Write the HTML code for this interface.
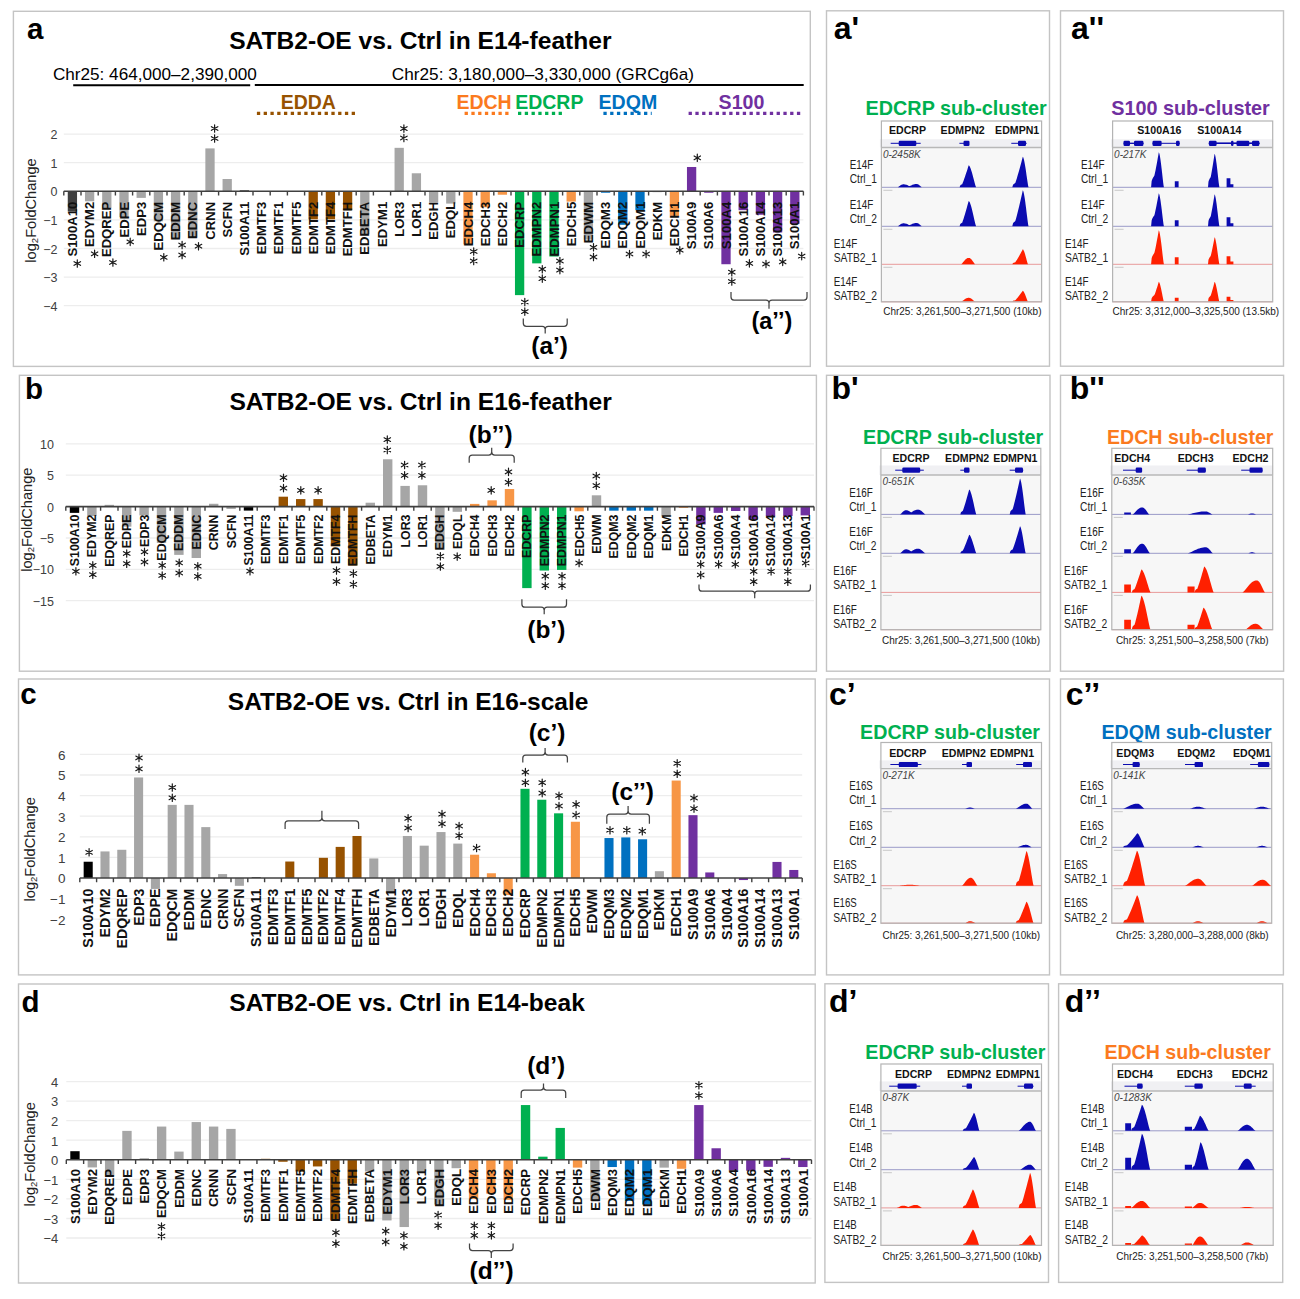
<!DOCTYPE html>
<html><head><meta charset="utf-8"><title>SATB2-OE figure</title>
<style>html,body{margin:0;padding:0;background:#fff;} svg{display:block;} text{font-family:"Liberation Sans",sans-serif;}</style>
</head><body>
<svg width="1300" height="1299" viewBox="0 0 1300 1299" font-family="Liberation Sans, sans-serif">
<rect width="1300" height="1299" fill="#fff"/>
<rect x="13.4" y="11.3" width="796.9" height="355.1" fill="none" stroke="#c4c4c4" stroke-width="1.4"/>
<rect x="19.4" y="375.3" width="797.0" height="295.9" fill="none" stroke="#c4c4c4" stroke-width="1.4"/>
<rect x="18.5" y="679.0" width="796.7" height="295.9" fill="none" stroke="#c4c4c4" stroke-width="1.4"/>
<rect x="18.5" y="984.0" width="796.7" height="299.0" fill="none" stroke="#c4c4c4" stroke-width="1.4"/>
<text x="27.0" y="39.2" font-size="29.5" font-weight="bold" fill="#000" text-anchor="start" >a</text>
<text x="25.0" y="398.9" font-size="29.5" font-weight="bold" fill="#000" text-anchor="start" >b</text>
<text x="20.2" y="704.2" font-size="29.5" font-weight="bold" fill="#000" text-anchor="start" >c</text>
<text x="21.6" y="1011.8" font-size="29.5" font-weight="bold" fill="#000" text-anchor="start" >d</text>
<text x="229.2" y="49.2" font-size="24.5" font-weight="bold" fill="#000" text-anchor="start" textLength="382.4" lengthAdjust="spacingAndGlyphs" >SATB2-OE vs. Ctrl in E14-feather</text>
<text x="229.4" y="409.8" font-size="24.5" font-weight="bold" fill="#000" text-anchor="start" textLength="382.4" lengthAdjust="spacingAndGlyphs" >SATB2-OE vs. Ctrl in E16-feather</text>
<text x="227.8" y="709.6" font-size="24.5" font-weight="bold" fill="#000" text-anchor="start" textLength="360.6" lengthAdjust="spacingAndGlyphs" >SATB2-OE vs. Ctrl in E16-scale</text>
<text x="229.3" y="1010.5" font-size="24.5" font-weight="bold" fill="#000" text-anchor="start" textLength="355.5" lengthAdjust="spacingAndGlyphs" >SATB2-OE vs. Ctrl in E14-beak</text>
<text x="52.9" y="80.0" font-size="17.2" font-weight="normal" fill="#000" text-anchor="start" textLength="204" lengthAdjust="spacingAndGlyphs" >Chr25: 464,000–2,390,000</text>
<text x="391.8" y="80.0" font-size="17.2" font-weight="normal" fill="#000" text-anchor="start" textLength="302.2" lengthAdjust="spacingAndGlyphs" >Chr25: 3,180,000–3,330,000 (GRCg6a)</text>
<line x1="73.2" y1="85.2" x2="250.2" y2="85.2" stroke="#000" stroke-width="2.1"/>
<line x1="254.8" y1="85.0" x2="803.7" y2="85.0" stroke="#000" stroke-width="2.1"/>
<text x="280.7" y="108.6" font-size="20.5" font-weight="bold" fill="#975200" text-anchor="start" textLength="55.1" lengthAdjust="spacingAndGlyphs" >EDDA</text>
<line x1="256.9" y1="113.3" x2="356.0" y2="113.3" stroke="#975200" stroke-width="3.2" stroke-dasharray="3.3 3.47"/>
<text x="456.4" y="108.6" font-size="20.5" font-weight="bold" fill="#fb7a1e" text-anchor="start" textLength="55.300000000000004" lengthAdjust="spacingAndGlyphs" >EDCH</text>
<line x1="464.6" y1="113.3" x2="512.0" y2="113.3" stroke="#fb7a1e" stroke-width="3.2" stroke-dasharray="3.3 3.47"/>
<text x="515.2" y="108.6" font-size="20.5" font-weight="bold" fill="#00b050" text-anchor="start" textLength="68.2" lengthAdjust="spacingAndGlyphs" >EDCRP</text>
<line x1="518.0" y1="113.3" x2="565.4" y2="113.3" stroke="#00b050" stroke-width="3.2" stroke-dasharray="3.3 3.47"/>
<text x="598.5" y="108.6" font-size="20.5" font-weight="bold" fill="#0070c0" text-anchor="start" textLength="58.7" lengthAdjust="spacingAndGlyphs" >EDQM</text>
<line x1="603.4" y1="113.3" x2="651.7" y2="113.3" stroke="#0070c0" stroke-width="3.2" stroke-dasharray="3.3 3.47"/>
<text x="718.6" y="108.6" font-size="20.5" font-weight="bold" fill="#7030a0" text-anchor="start" textLength="45.800000000000004" lengthAdjust="spacingAndGlyphs" >S100</text>
<line x1="688.6" y1="113.3" x2="803.0" y2="113.3" stroke="#7030a0" stroke-width="3.2" stroke-dasharray="3.3 3.47"/>
<line x1="63.8" y1="134.1" x2="803.4" y2="134.1" stroke="#ededed" stroke-width="1.3"/>
<text x="57.5" y="139.1" font-size="12.5" fill="#404040" text-anchor="end">2</text>
<line x1="63.8" y1="162.7" x2="803.4" y2="162.7" stroke="#ededed" stroke-width="1.3"/>
<text x="57.5" y="167.7" font-size="12.5" fill="#404040" text-anchor="end">1</text>
<text x="57.5" y="196.3" font-size="12.5" fill="#404040" text-anchor="end">0</text>
<line x1="63.8" y1="219.9" x2="803.4" y2="219.9" stroke="#ededed" stroke-width="1.3"/>
<text x="57.5" y="224.9" font-size="12.5" fill="#404040" text-anchor="end">−1</text>
<line x1="63.8" y1="248.5" x2="803.4" y2="248.5" stroke="#ededed" stroke-width="1.3"/>
<text x="57.5" y="253.5" font-size="12.5" fill="#404040" text-anchor="end">−2</text>
<line x1="63.8" y1="277.1" x2="803.4" y2="277.1" stroke="#ededed" stroke-width="1.3"/>
<text x="57.5" y="282.1" font-size="12.5" fill="#404040" text-anchor="end">−3</text>
<line x1="63.8" y1="305.7" x2="803.4" y2="305.7" stroke="#ededed" stroke-width="1.3"/>
<text x="57.5" y="310.7" font-size="12.5" fill="#404040" text-anchor="end">−4</text>
<rect x="67.76" y="191.30" width="9.29" height="20.02" fill="#404040"/>
<rect x="84.96" y="191.30" width="9.29" height="10.01" fill="#a6a6a6"/>
<rect x="102.16" y="191.30" width="9.29" height="16.59" fill="#a6a6a6"/>
<rect x="119.36" y="191.30" width="9.29" height="25.74" fill="#a6a6a6"/>
<rect x="136.56" y="191.30" width="9.29" height="6.58" fill="#a6a6a6"/>
<rect x="153.76" y="191.30" width="9.29" height="30.03" fill="#a6a6a6"/>
<rect x="170.96" y="191.30" width="9.29" height="46.33" fill="#a6a6a6"/>
<rect x="188.16" y="191.30" width="9.29" height="46.33" fill="#a6a6a6"/>
<rect x="205.36" y="148.40" width="9.29" height="42.90" fill="#a6a6a6"/>
<rect x="222.56" y="179.00" width="9.29" height="12.30" fill="#a6a6a6"/>
<rect x="239.76" y="190.44" width="9.29" height="0.86" fill="#000000"/>
<rect x="308.56" y="191.30" width="9.29" height="28.03" fill="#975200"/>
<rect x="325.76" y="191.30" width="9.29" height="28.03" fill="#975200"/>
<rect x="342.96" y="191.30" width="9.29" height="18.88" fill="#975200"/>
<rect x="360.16" y="191.30" width="9.29" height="42.90" fill="#a6a6a6"/>
<rect x="394.56" y="147.83" width="9.29" height="43.47" fill="#a6a6a6"/>
<rect x="411.76" y="173.28" width="9.29" height="18.02" fill="#a6a6a6"/>
<rect x="428.96" y="191.30" width="9.29" height="11.15" fill="#a6a6a6"/>
<rect x="446.16" y="191.30" width="9.29" height="12.30" fill="#a6a6a6"/>
<rect x="463.36" y="191.30" width="9.29" height="52.91" fill="#f79646"/>
<rect x="480.56" y="191.30" width="9.29" height="16.02" fill="#f79646"/>
<rect x="497.76" y="191.30" width="9.29" height="3.43" fill="#f79646"/>
<rect x="514.96" y="191.30" width="9.29" height="103.82" fill="#00b050"/>
<rect x="532.16" y="191.30" width="9.29" height="72.07" fill="#00b050"/>
<rect x="549.36" y="191.30" width="9.29" height="65.21" fill="#00b050"/>
<rect x="566.56" y="191.30" width="9.29" height="10.30" fill="#f79646"/>
<rect x="583.76" y="191.30" width="9.29" height="48.33" fill="#a6a6a6"/>
<rect x="600.96" y="191.30" width="9.29" height="1.43" fill="#0070c0"/>
<rect x="618.16" y="191.30" width="9.29" height="33.46" fill="#0070c0"/>
<rect x="635.36" y="191.30" width="9.29" height="18.88" fill="#0070c0"/>
<rect x="652.56" y="191.30" width="9.29" height="0.86" fill="#a6a6a6"/>
<rect x="669.76" y="191.30" width="9.29" height="24.60" fill="#f79646"/>
<rect x="686.96" y="166.99" width="9.29" height="24.31" fill="#7030a0"/>
<rect x="704.16" y="191.30" width="9.29" height="1.43" fill="#7030a0"/>
<rect x="721.36" y="191.30" width="9.29" height="72.93" fill="#7030a0"/>
<rect x="738.56" y="191.30" width="9.29" height="18.88" fill="#7030a0"/>
<rect x="755.76" y="191.30" width="9.29" height="23.45" fill="#7030a0"/>
<rect x="772.96" y="191.30" width="9.29" height="41.18" fill="#7030a0"/>
<rect x="790.16" y="191.30" width="9.29" height="32.60" fill="#7030a0"/>
<line x1="63.8" y1="191.3" x2="803.4" y2="191.3" stroke="#404040" stroke-width="1.6"/>
<path d="M63.80 191.3v4.2M81.00 191.3v4.2M98.20 191.3v4.2M115.40 191.3v4.2M132.60 191.3v4.2M149.80 191.3v4.2M167.00 191.3v4.2M184.20 191.3v4.2M201.40 191.3v4.2M218.60 191.3v4.2M235.80 191.3v4.2M253.00 191.3v4.2M270.20 191.3v4.2M287.40 191.3v4.2M304.60 191.3v4.2M321.80 191.3v4.2M339.00 191.3v4.2M356.20 191.3v4.2M373.40 191.3v4.2M390.60 191.3v4.2M407.80 191.3v4.2M425.00 191.3v4.2M442.20 191.3v4.2M459.40 191.3v4.2M476.60 191.3v4.2M493.80 191.3v4.2M511.00 191.3v4.2M528.20 191.3v4.2M545.40 191.3v4.2M562.60 191.3v4.2M579.80 191.3v4.2M597.00 191.3v4.2M614.20 191.3v4.2M631.40 191.3v4.2M648.60 191.3v4.2M665.80 191.3v4.2M683.00 191.3v4.2M700.20 191.3v4.2M717.40 191.3v4.2M734.60 191.3v4.2M751.80 191.3v4.2M769.00 191.3v4.2M786.20 191.3v4.2M803.40 191.3v4.2" stroke="#404040" stroke-width="1.4"/>
<text transform="translate(77.09 201.8) rotate(-90)" text-anchor="end" font-size="13.1" font-weight="bold" fill="#111">S100A10</text>
<text transform="translate(94.29 201.8) rotate(-90)" text-anchor="end" font-size="13.1" font-weight="bold" fill="#111">EDYM2</text>
<text transform="translate(111.49 201.8) rotate(-90)" text-anchor="end" font-size="13.1" font-weight="bold" fill="#111">EDQREP</text>
<text transform="translate(128.69 201.8) rotate(-90)" text-anchor="end" font-size="13.1" font-weight="bold" fill="#111">EDPE</text>
<text transform="translate(145.89 201.8) rotate(-90)" text-anchor="end" font-size="13.1" font-weight="bold" fill="#111">EDP3</text>
<text transform="translate(163.09 201.8) rotate(-90)" text-anchor="end" font-size="13.1" font-weight="bold" fill="#111">EDQCM</text>
<text transform="translate(180.29 201.8) rotate(-90)" text-anchor="end" font-size="13.1" font-weight="bold" fill="#111">EDDM</text>
<text transform="translate(197.49 201.8) rotate(-90)" text-anchor="end" font-size="13.1" font-weight="bold" fill="#111">EDNC</text>
<text transform="translate(214.69 201.8) rotate(-90)" text-anchor="end" font-size="13.1" font-weight="bold" fill="#111">CRNN</text>
<text transform="translate(231.89 201.8) rotate(-90)" text-anchor="end" font-size="13.1" font-weight="bold" fill="#111">SCFN</text>
<text transform="translate(249.09 201.8) rotate(-90)" text-anchor="end" font-size="13.1" font-weight="bold" fill="#111">S100A11</text>
<text transform="translate(266.29 201.8) rotate(-90)" text-anchor="end" font-size="13.1" font-weight="bold" fill="#111">EDMTF3</text>
<text transform="translate(283.49 201.8) rotate(-90)" text-anchor="end" font-size="13.1" font-weight="bold" fill="#111">EDMTF1</text>
<text transform="translate(300.69 201.8) rotate(-90)" text-anchor="end" font-size="13.1" font-weight="bold" fill="#111">EDMTF5</text>
<text transform="translate(317.89 201.8) rotate(-90)" text-anchor="end" font-size="13.1" font-weight="bold" fill="#111">EDMTF2</text>
<text transform="translate(335.09 201.8) rotate(-90)" text-anchor="end" font-size="13.1" font-weight="bold" fill="#111">EDMTF4</text>
<text transform="translate(352.29 201.8) rotate(-90)" text-anchor="end" font-size="13.1" font-weight="bold" fill="#111">EDMTFH</text>
<text transform="translate(369.49 201.8) rotate(-90)" text-anchor="end" font-size="13.1" font-weight="bold" fill="#111">EDBETA</text>
<text transform="translate(386.69 201.8) rotate(-90)" text-anchor="end" font-size="13.1" font-weight="bold" fill="#111">EDYM1</text>
<text transform="translate(403.89 201.8) rotate(-90)" text-anchor="end" font-size="13.1" font-weight="bold" fill="#111">LOR3</text>
<text transform="translate(421.09 201.8) rotate(-90)" text-anchor="end" font-size="13.1" font-weight="bold" fill="#111">LOR1</text>
<text transform="translate(438.29 201.8) rotate(-90)" text-anchor="end" font-size="13.1" font-weight="bold" fill="#111">EDGH</text>
<text transform="translate(455.49 201.8) rotate(-90)" text-anchor="end" font-size="13.1" font-weight="bold" fill="#111">EDQL</text>
<text transform="translate(472.69 201.8) rotate(-90)" text-anchor="end" font-size="13.1" font-weight="bold" fill="#111">EDCH4</text>
<text transform="translate(489.89 201.8) rotate(-90)" text-anchor="end" font-size="13.1" font-weight="bold" fill="#111">EDCH3</text>
<text transform="translate(507.09 201.8) rotate(-90)" text-anchor="end" font-size="13.1" font-weight="bold" fill="#111">EDCH2</text>
<text transform="translate(524.29 201.8) rotate(-90)" text-anchor="end" font-size="13.1" font-weight="bold" fill="#111">EDCRP</text>
<text transform="translate(541.49 201.8) rotate(-90)" text-anchor="end" font-size="13.1" font-weight="bold" fill="#111">EDMPN2</text>
<text transform="translate(558.69 201.8) rotate(-90)" text-anchor="end" font-size="13.1" font-weight="bold" fill="#111">EDMPN1</text>
<text transform="translate(575.89 201.8) rotate(-90)" text-anchor="end" font-size="13.1" font-weight="bold" fill="#111">EDCH5</text>
<text transform="translate(593.09 201.8) rotate(-90)" text-anchor="end" font-size="13.1" font-weight="bold" fill="#111">EDWM</text>
<text transform="translate(610.29 201.8) rotate(-90)" text-anchor="end" font-size="13.1" font-weight="bold" fill="#111">EDQM3</text>
<text transform="translate(627.49 201.8) rotate(-90)" text-anchor="end" font-size="13.1" font-weight="bold" fill="#111">EDQM2</text>
<text transform="translate(644.69 201.8) rotate(-90)" text-anchor="end" font-size="13.1" font-weight="bold" fill="#111">EDQM1</text>
<text transform="translate(661.89 201.8) rotate(-90)" text-anchor="end" font-size="13.1" font-weight="bold" fill="#111">EDKM</text>
<text transform="translate(679.09 201.8) rotate(-90)" text-anchor="end" font-size="13.1" font-weight="bold" fill="#111">EDCH1</text>
<text transform="translate(696.29 201.8) rotate(-90)" text-anchor="end" font-size="13.1" font-weight="bold" fill="#111">S100A9</text>
<text transform="translate(713.49 201.8) rotate(-90)" text-anchor="end" font-size="13.1" font-weight="bold" fill="#111">S100A6</text>
<text transform="translate(730.69 201.8) rotate(-90)" text-anchor="end" font-size="13.1" font-weight="bold" fill="#111">S100A4</text>
<text transform="translate(747.89 201.8) rotate(-90)" text-anchor="end" font-size="13.1" font-weight="bold" fill="#111">S100A16</text>
<text transform="translate(765.09 201.8) rotate(-90)" text-anchor="end" font-size="13.1" font-weight="bold" fill="#111">S100A14</text>
<text transform="translate(782.29 201.8) rotate(-90)" text-anchor="end" font-size="13.1" font-weight="bold" fill="#111">S100A13</text>
<text transform="translate(799.49 201.8) rotate(-90)" text-anchor="end" font-size="13.1" font-weight="bold" fill="#111">S100A1</text>
<path d="M77.30 259.80L77.30 267.20M74.10 261.65L80.50 265.35M80.50 261.65L74.10 265.35M94.60 250.10L94.60 257.50M91.40 251.95L97.80 255.65M97.80 251.95L91.40 255.65M112.90 258.80L112.90 266.20M109.70 260.65L116.10 264.35M116.10 260.65L109.70 264.35M130.20 238.20L130.20 245.60M127.00 240.05L133.40 243.75M133.40 240.05L127.00 243.75M163.80 253.60L163.80 261.00M160.60 255.45L167.00 259.15M167.00 255.45L160.60 259.15M182.10 241.30L182.10 248.70M178.90 243.15L185.30 246.85M185.30 243.15L178.90 246.85M182.10 251.30L182.10 258.70M178.90 253.15L185.30 256.85M185.30 253.15L178.90 256.85M198.50 242.50L198.50 249.90M195.30 244.35L201.70 248.05M201.70 244.35L195.30 248.05M214.60 124.80L214.60 132.20M211.40 126.65L217.80 130.35M217.80 126.65L211.40 130.35M214.60 134.80L214.60 142.20M211.40 136.65L217.80 140.35M217.80 136.65L211.40 140.35M403.90 124.90L403.90 132.30M400.70 126.75L407.10 130.45M407.10 126.75L400.70 130.45M403.90 134.30L403.90 141.70M400.70 136.15L407.10 139.85M407.10 136.15L400.70 139.85M473.70 247.80L473.70 255.20M470.50 249.65L476.90 253.35M476.90 249.65L470.50 253.35M473.70 257.30L473.70 264.70M470.50 259.15L476.90 262.85M476.90 259.15L470.50 262.85M524.80 298.30L524.80 305.70M521.60 300.15L528.00 303.85M528.00 300.15L521.60 303.85M524.80 307.90L524.80 315.30M521.60 309.75L528.00 313.45M528.00 309.75L521.60 313.45M542.30 265.50L542.30 272.90M539.10 267.35L545.50 271.05M545.50 267.35L539.10 271.05M542.30 274.90L542.30 282.30M539.10 276.75L545.50 280.45M545.50 276.75L539.10 280.45M559.90 257.30L559.90 264.70M556.70 259.15L563.10 262.85M563.10 259.15L556.70 262.85M559.90 266.40L559.90 273.80M556.70 268.25L563.10 271.95M563.10 268.25L556.70 271.95M593.50 243.60L593.50 251.00M590.30 245.45L596.70 249.15M596.70 245.45L590.30 249.15M593.50 253.30L593.50 260.70M590.30 255.15L596.70 258.85M596.70 255.15L590.30 258.85M629.50 250.30L629.50 257.70M626.30 252.15L632.70 255.85M632.70 252.15L626.30 255.85M646.10 250.30L646.10 257.70M642.90 252.15L649.30 255.85M649.30 252.15L642.90 255.85M679.80 246.50L679.80 253.90M676.60 248.35L683.00 252.05M683.00 248.35L676.60 252.05M731.80 268.50L731.80 275.90M728.60 270.35L735.00 274.05M735.00 270.35L728.60 274.05M731.80 277.80L731.80 285.20M728.60 279.65L735.00 283.35M735.00 279.65L728.60 283.35M749.40 259.70L749.40 267.10M746.20 261.55L752.60 265.25M752.60 261.55L746.20 265.25M766.00 260.30L766.00 267.70M762.80 262.15L769.20 265.85M769.20 262.15L762.80 265.85M782.70 258.20L782.70 265.60M779.50 260.05L785.90 263.75M785.90 260.05L779.50 263.75M801.70 252.40L801.70 259.80M798.50 254.25L804.90 257.95M804.90 254.25L798.50 257.95M697.30 154.10L697.30 161.50M694.10 155.95L700.50 159.65M700.50 155.95L694.10 159.65" stroke="#1a1a1a" stroke-width="1.2" stroke-linecap="round" fill="none"/>
<text transform="translate(35.6 210.5) rotate(-90)" text-anchor="middle" font-size="14.6" fill="#222">log<tspan font-size="9.5" dy="2.2">2</tspan><tspan dy="-2.2">FoldChange</tspan></text>
<line x1="65.8" y1="443.9" x2="814.0" y2="443.9" stroke="#ededed" stroke-width="1.3"/>
<text x="54.0" y="448.9" font-size="12.5" fill="#404040" text-anchor="end">10</text>
<line x1="65.8" y1="475.2" x2="814.0" y2="475.2" stroke="#ededed" stroke-width="1.3"/>
<text x="54.0" y="480.2" font-size="12.5" fill="#404040" text-anchor="end">5</text>
<text x="54.0" y="511.6" font-size="12.5" fill="#404040" text-anchor="end">0</text>
<line x1="65.8" y1="538.0" x2="814.0" y2="538.0" stroke="#ededed" stroke-width="1.3"/>
<text x="54.0" y="543.0" font-size="12.5" fill="#404040" text-anchor="end">−5</text>
<line x1="65.8" y1="569.3" x2="814.0" y2="569.3" stroke="#ededed" stroke-width="1.3"/>
<text x="54.0" y="574.3" font-size="12.5" fill="#404040" text-anchor="end">−10</text>
<line x1="65.8" y1="600.6" x2="814.0" y2="600.6" stroke="#ededed" stroke-width="1.3"/>
<text x="54.0" y="605.6" font-size="12.5" fill="#404040" text-anchor="end">−15</text>
<rect x="69.80" y="506.60" width="9.40" height="6.27" fill="#000000"/>
<rect x="87.20" y="506.60" width="9.40" height="9.40" fill="#a6a6a6"/>
<rect x="104.60" y="504.84" width="9.40" height="1.76" fill="#a6a6a6"/>
<rect x="122.00" y="506.60" width="9.40" height="20.06" fill="#a6a6a6"/>
<rect x="139.40" y="506.60" width="9.40" height="8.78" fill="#a6a6a6"/>
<rect x="156.80" y="506.60" width="9.40" height="36.37" fill="#a6a6a6"/>
<rect x="174.20" y="506.60" width="9.40" height="48.28" fill="#a6a6a6"/>
<rect x="191.60" y="506.60" width="9.40" height="51.41" fill="#a6a6a6"/>
<rect x="209.00" y="503.78" width="9.40" height="2.82" fill="#a6a6a6"/>
<rect x="226.40" y="506.60" width="9.40" height="2.32" fill="#a6a6a6"/>
<rect x="243.80" y="506.60" width="9.40" height="4.01" fill="#000000"/>
<rect x="278.60" y="496.69" width="9.40" height="9.91" fill="#975200"/>
<rect x="296.00" y="499.08" width="9.40" height="7.52" fill="#975200"/>
<rect x="313.40" y="499.08" width="9.40" height="7.52" fill="#975200"/>
<rect x="330.80" y="506.60" width="9.40" height="39.81" fill="#975200"/>
<rect x="348.20" y="506.60" width="9.40" height="58.94" fill="#975200"/>
<rect x="365.60" y="502.71" width="9.40" height="3.89" fill="#a6a6a6"/>
<rect x="383.00" y="459.26" width="9.40" height="47.34" fill="#a6a6a6"/>
<rect x="400.40" y="485.91" width="9.40" height="20.69" fill="#a6a6a6"/>
<rect x="417.80" y="485.28" width="9.40" height="21.32" fill="#a6a6a6"/>
<rect x="435.20" y="506.60" width="9.40" height="43.26" fill="#a6a6a6"/>
<rect x="452.60" y="506.60" width="9.40" height="5.20" fill="#a6a6a6"/>
<rect x="470.00" y="503.90" width="9.40" height="2.70" fill="#f79646"/>
<rect x="487.40" y="500.33" width="9.40" height="6.27" fill="#f79646"/>
<rect x="504.80" y="489.04" width="9.40" height="17.56" fill="#f79646"/>
<rect x="522.20" y="506.60" width="9.40" height="81.51" fill="#00b050"/>
<rect x="539.60" y="506.60" width="9.40" height="63.95" fill="#00b050"/>
<rect x="557.00" y="506.60" width="9.40" height="63.33" fill="#00b050"/>
<rect x="574.40" y="506.60" width="9.40" height="4.70" fill="#f79646"/>
<rect x="591.80" y="495.31" width="9.40" height="11.29" fill="#a6a6a6"/>
<rect x="609.20" y="506.60" width="9.40" height="4.08" fill="#0070c0"/>
<rect x="626.60" y="506.60" width="9.40" height="4.08" fill="#0070c0"/>
<rect x="644.00" y="506.60" width="9.40" height="4.08" fill="#0070c0"/>
<rect x="661.40" y="506.60" width="9.40" height="9.78" fill="#a6a6a6"/>
<rect x="678.80" y="506.60" width="9.40" height="1.25" fill="#f79646"/>
<rect x="696.20" y="506.60" width="9.40" height="17.87" fill="#7030a0"/>
<rect x="713.60" y="506.60" width="9.40" height="6.27" fill="#7030a0"/>
<rect x="731.00" y="506.60" width="9.40" height="4.39" fill="#7030a0"/>
<rect x="748.40" y="506.60" width="9.40" height="13.17" fill="#7030a0"/>
<rect x="765.80" y="506.60" width="9.40" height="9.40" fill="#7030a0"/>
<rect x="783.20" y="506.60" width="9.40" height="9.40" fill="#7030a0"/>
<rect x="800.60" y="506.60" width="9.40" height="8.78" fill="#7030a0"/>
<line x1="65.8" y1="506.6" x2="814.0" y2="506.6" stroke="#404040" stroke-width="1.6"/>
<path d="M65.80 506.6v4.2M83.20 506.6v4.2M100.60 506.6v4.2M118.00 506.6v4.2M135.40 506.6v4.2M152.80 506.6v4.2M170.20 506.6v4.2M187.60 506.6v4.2M205.00 506.6v4.2M222.40 506.6v4.2M239.80 506.6v4.2M257.20 506.6v4.2M274.60 506.6v4.2M292.00 506.6v4.2M309.40 506.6v4.2M326.80 506.6v4.2M344.20 506.6v4.2M361.60 506.6v4.2M379.00 506.6v4.2M396.40 506.6v4.2M413.80 506.6v4.2M431.20 506.6v4.2M448.60 506.6v4.2M466.00 506.6v4.2M483.40 506.6v4.2M500.80 506.6v4.2M518.20 506.6v4.2M535.60 506.6v4.2M553.00 506.6v4.2M570.40 506.6v4.2M587.80 506.6v4.2M605.20 506.6v4.2M622.60 506.6v4.2M640.00 506.6v4.2M657.40 506.6v4.2M674.80 506.6v4.2M692.20 506.6v4.2M709.60 506.6v4.2M727.00 506.6v4.2M744.40 506.6v4.2M761.80 506.6v4.2M779.20 506.6v4.2M796.60 506.6v4.2M814.00 506.6v4.2" stroke="#404040" stroke-width="1.4"/>
<text transform="translate(78.94 514.5) rotate(-90)" text-anchor="end" font-size="12.4" font-weight="bold" fill="#111">S100A10</text>
<text transform="translate(96.34 514.5) rotate(-90)" text-anchor="end" font-size="12.4" font-weight="bold" fill="#111">EDYM2</text>
<text transform="translate(113.74 514.5) rotate(-90)" text-anchor="end" font-size="12.4" font-weight="bold" fill="#111">EDQREP</text>
<text transform="translate(131.14 514.5) rotate(-90)" text-anchor="end" font-size="12.4" font-weight="bold" fill="#111">EDPE</text>
<text transform="translate(148.54 514.5) rotate(-90)" text-anchor="end" font-size="12.4" font-weight="bold" fill="#111">EDP3</text>
<text transform="translate(165.94 514.5) rotate(-90)" text-anchor="end" font-size="12.4" font-weight="bold" fill="#111">EDQCM</text>
<text transform="translate(183.34 514.5) rotate(-90)" text-anchor="end" font-size="12.4" font-weight="bold" fill="#111">EDDM</text>
<text transform="translate(200.74 514.5) rotate(-90)" text-anchor="end" font-size="12.4" font-weight="bold" fill="#111">EDNC</text>
<text transform="translate(218.14 514.5) rotate(-90)" text-anchor="end" font-size="12.4" font-weight="bold" fill="#111">CRNN</text>
<text transform="translate(235.54 514.5) rotate(-90)" text-anchor="end" font-size="12.4" font-weight="bold" fill="#111">SCFN</text>
<text transform="translate(252.94 514.5) rotate(-90)" text-anchor="end" font-size="12.4" font-weight="bold" fill="#111">S100A11</text>
<text transform="translate(270.34 514.5) rotate(-90)" text-anchor="end" font-size="12.4" font-weight="bold" fill="#111">EDMTF3</text>
<text transform="translate(287.74 514.5) rotate(-90)" text-anchor="end" font-size="12.4" font-weight="bold" fill="#111">EDMTF1</text>
<text transform="translate(305.14 514.5) rotate(-90)" text-anchor="end" font-size="12.4" font-weight="bold" fill="#111">EDMTF5</text>
<text transform="translate(322.54 514.5) rotate(-90)" text-anchor="end" font-size="12.4" font-weight="bold" fill="#111">EDMTF2</text>
<text transform="translate(339.94 514.5) rotate(-90)" text-anchor="end" font-size="12.4" font-weight="bold" fill="#111">EDMTF4</text>
<text transform="translate(357.34 514.5) rotate(-90)" text-anchor="end" font-size="12.4" font-weight="bold" fill="#111">EDMTFH</text>
<text transform="translate(374.74 514.5) rotate(-90)" text-anchor="end" font-size="12.4" font-weight="bold" fill="#111">EDBETA</text>
<text transform="translate(392.14 514.5) rotate(-90)" text-anchor="end" font-size="12.4" font-weight="bold" fill="#111">EDYM1</text>
<text transform="translate(409.54 514.5) rotate(-90)" text-anchor="end" font-size="12.4" font-weight="bold" fill="#111">LOR3</text>
<text transform="translate(426.94 514.5) rotate(-90)" text-anchor="end" font-size="12.4" font-weight="bold" fill="#111">LOR1</text>
<text transform="translate(444.34 514.5) rotate(-90)" text-anchor="end" font-size="12.4" font-weight="bold" fill="#111">EDGH</text>
<text transform="translate(461.74 514.5) rotate(-90)" text-anchor="end" font-size="12.4" font-weight="bold" fill="#111">EDQL</text>
<text transform="translate(479.14 514.5) rotate(-90)" text-anchor="end" font-size="12.4" font-weight="bold" fill="#111">EDCH4</text>
<text transform="translate(496.54 514.5) rotate(-90)" text-anchor="end" font-size="12.4" font-weight="bold" fill="#111">EDCH3</text>
<text transform="translate(513.94 514.5) rotate(-90)" text-anchor="end" font-size="12.4" font-weight="bold" fill="#111">EDCH2</text>
<text transform="translate(531.34 514.5) rotate(-90)" text-anchor="end" font-size="12.4" font-weight="bold" fill="#111">EDCRP</text>
<text transform="translate(548.74 514.5) rotate(-90)" text-anchor="end" font-size="12.4" font-weight="bold" fill="#111">EDMPN2</text>
<text transform="translate(566.14 514.5) rotate(-90)" text-anchor="end" font-size="12.4" font-weight="bold" fill="#111">EDMPN1</text>
<text transform="translate(583.54 514.5) rotate(-90)" text-anchor="end" font-size="12.4" font-weight="bold" fill="#111">EDCH5</text>
<text transform="translate(600.94 514.5) rotate(-90)" text-anchor="end" font-size="12.4" font-weight="bold" fill="#111">EDWM</text>
<text transform="translate(618.34 514.5) rotate(-90)" text-anchor="end" font-size="12.4" font-weight="bold" fill="#111">EDQM3</text>
<text transform="translate(635.74 514.5) rotate(-90)" text-anchor="end" font-size="12.4" font-weight="bold" fill="#111">EDQM2</text>
<text transform="translate(653.14 514.5) rotate(-90)" text-anchor="end" font-size="12.4" font-weight="bold" fill="#111">EDQM1</text>
<text transform="translate(670.54 514.5) rotate(-90)" text-anchor="end" font-size="12.4" font-weight="bold" fill="#111">EDKM</text>
<text transform="translate(687.94 514.5) rotate(-90)" text-anchor="end" font-size="12.4" font-weight="bold" fill="#111">EDCH1</text>
<text transform="translate(705.34 514.5) rotate(-90)" text-anchor="end" font-size="12.4" font-weight="bold" fill="#111">S100A9</text>
<text transform="translate(722.74 514.5) rotate(-90)" text-anchor="end" font-size="12.4" font-weight="bold" fill="#111">S100A6</text>
<text transform="translate(740.14 514.5) rotate(-90)" text-anchor="end" font-size="12.4" font-weight="bold" fill="#111">S100A4</text>
<text transform="translate(757.54 514.5) rotate(-90)" text-anchor="end" font-size="12.4" font-weight="bold" fill="#111">S100A16</text>
<text transform="translate(774.94 514.5) rotate(-90)" text-anchor="end" font-size="12.4" font-weight="bold" fill="#111">S100A14</text>
<text transform="translate(792.34 514.5) rotate(-90)" text-anchor="end" font-size="12.4" font-weight="bold" fill="#111">S100A13</text>
<text transform="translate(809.74 514.5) rotate(-90)" text-anchor="end" font-size="12.4" font-weight="bold" fill="#111">S100A1</text>
<path d="M75.90 567.60L75.90 575.00M72.70 569.45L79.10 573.15M79.10 569.45L72.70 573.15M92.80 561.70L92.80 569.10M89.60 563.55L96.00 567.25M96.00 563.55L89.60 567.25M92.80 571.00L92.80 578.40M89.60 572.85L96.00 576.55M96.00 572.85L89.60 576.55M126.70 549.80L126.70 557.20M123.50 551.65L129.90 555.35M129.90 551.65L123.50 555.35M126.70 560.00L126.70 567.40M123.50 561.85L129.90 565.55M129.90 561.85L123.50 565.55M144.50 548.10L144.50 555.50M141.30 549.95L147.70 553.65M147.70 549.95L141.30 553.65M144.50 558.30L144.50 565.70M141.30 560.15L147.70 563.85M147.70 560.15L141.30 563.85M162.20 561.70L162.20 569.10M159.00 563.55L165.40 567.25M165.40 563.55L159.00 567.25M162.20 571.80L162.20 579.20M159.00 573.65L165.40 577.35M165.40 573.65L159.00 577.35M179.20 559.10L179.20 566.50M176.00 560.95L182.40 564.65M182.40 560.95L176.00 564.65M179.20 569.30L179.20 576.70M176.00 571.15L182.40 574.85M182.40 571.15L176.00 574.85M197.80 562.50L197.80 569.90M194.60 564.35L201.00 568.05M201.00 564.35L194.60 568.05M197.80 572.70L197.80 580.10M194.60 574.55L201.00 578.25M201.00 574.55L194.60 578.25M250.00 567.50L250.00 574.90M246.80 569.35L253.20 573.05M253.20 569.35L246.80 573.05M283.50 474.00L283.50 481.40M280.30 475.85L286.70 479.55M286.70 475.85L280.30 479.55M283.50 484.40L283.50 491.80M280.30 486.25L286.70 489.95M286.70 486.25L280.30 489.95M300.80 486.70L300.80 494.10M297.60 488.55L304.00 492.25M304.00 488.55L297.60 492.25M318.10 486.70L318.10 494.10M314.90 488.55L321.30 492.25M321.30 488.55L314.90 492.25M336.50 566.80L336.50 574.20M333.30 568.65L339.70 572.35M339.70 568.65L333.30 572.35M336.50 577.80L336.50 585.20M333.30 579.65L339.70 583.35M339.70 579.65L333.30 583.35M353.40 569.80L353.40 577.20M350.20 571.65L356.60 575.35M356.60 571.65L350.20 575.35M353.40 580.60L353.40 588.00M350.20 582.45L356.60 586.15M356.60 582.45L350.20 586.15M387.30 435.90L387.30 443.30M384.10 437.75L390.50 441.45M390.50 437.75L384.10 441.45M387.30 446.30L387.30 453.70M384.10 448.15L390.50 451.85M390.50 448.15L384.10 451.85M404.60 461.30L404.60 468.70M401.40 463.15L407.80 466.85M407.80 463.15L401.40 466.85M404.60 471.70L404.60 479.10M401.40 473.55L407.80 477.25M407.80 473.55L401.40 477.25M421.90 461.30L421.90 468.70M418.70 463.15L425.10 466.85M425.10 463.15L418.70 466.85M421.90 471.70L421.90 479.10M418.70 473.55L425.10 477.25M425.10 473.55L418.70 477.25M440.40 552.50L440.40 559.90M437.20 554.35L443.60 558.05M443.60 554.35L437.20 558.05M440.40 562.80L440.40 570.20M437.20 564.65L443.60 568.35M443.60 564.65L437.20 568.35M457.20 552.90L457.20 560.30M454.00 554.75L460.40 558.45M460.40 554.75L454.00 558.45M491.20 486.70L491.20 494.10M488.00 488.55L494.40 492.25M494.40 488.55L488.00 492.25M508.50 468.20L508.50 475.60M505.30 470.05L511.70 473.75M511.70 470.05L505.30 473.75M508.50 478.60L508.50 486.00M505.30 480.45L511.70 484.15M511.70 480.45L505.30 484.15M545.30 572.50L545.30 579.90M542.10 574.35L548.50 578.05M548.50 574.35L542.10 578.05M545.30 582.00L545.30 589.40M542.10 583.85L548.50 587.55M548.50 583.85L542.10 587.55M562.00 572.50L562.00 579.90M558.80 574.35L565.20 578.05M565.20 574.35L558.80 578.05M562.00 582.00L562.00 589.40M558.80 583.85L565.20 587.55M565.20 583.85L558.80 587.55M579.10 559.30L579.10 566.70M575.90 561.15L582.30 564.85M582.30 561.15L575.90 564.85M596.30 472.30L596.30 479.70M593.10 474.15L599.50 477.85M599.50 474.15L593.10 477.85M596.30 481.90L596.30 489.30M593.10 483.75L599.50 487.45M599.50 483.75L593.10 487.45M700.70 560.60L700.70 568.00M697.50 562.45L703.90 566.15M703.90 562.45L697.50 566.15M700.70 571.30L700.70 578.70M697.50 573.15L703.90 576.85M703.90 573.15L697.50 576.85M718.60 560.60L718.60 568.00M715.40 562.45L721.80 566.15M721.80 562.45L715.40 566.15M735.30 560.60L735.30 568.00M732.10 562.45L738.50 566.15M738.50 562.45L732.10 566.15M753.70 567.70L753.70 575.10M750.50 569.55L756.90 573.25M756.90 569.55L750.50 573.25M753.70 578.00L753.70 585.40M750.50 579.85L756.90 583.55M756.90 579.85L750.50 583.55M771.10 567.70L771.10 575.10M767.90 569.55L774.30 573.25M774.30 569.55L767.90 573.25M787.80 567.70L787.80 575.10M784.60 569.55L791.00 573.25M791.00 569.55L784.60 573.25M787.80 578.00L787.80 585.40M784.60 579.85L791.00 583.55M791.00 579.85L784.60 583.55M805.70 559.30L805.70 566.70M802.50 561.15L808.90 564.85M808.90 561.15L802.50 564.85" stroke="#1a1a1a" stroke-width="1.2" stroke-linecap="round" fill="none"/>
<text transform="translate(31.6 519.7) rotate(-90)" text-anchor="middle" font-size="14.6" fill="#222">log<tspan font-size="9.5" dy="2.2">2</tspan><tspan dy="-2.2">FoldChange</tspan></text>
<line x1="79.8" y1="754.4" x2="802.2" y2="754.4" stroke="#ededed" stroke-width="1.3"/>
<text x="65.5" y="759.8" font-size="13.5" fill="#404040" text-anchor="end">6</text>
<line x1="79.8" y1="775.0" x2="802.2" y2="775.0" stroke="#ededed" stroke-width="1.3"/>
<text x="65.5" y="780.4" font-size="13.5" fill="#404040" text-anchor="end">5</text>
<line x1="79.8" y1="795.6" x2="802.2" y2="795.6" stroke="#ededed" stroke-width="1.3"/>
<text x="65.5" y="801.0" font-size="13.5" fill="#404040" text-anchor="end">4</text>
<line x1="79.8" y1="816.2" x2="802.2" y2="816.2" stroke="#ededed" stroke-width="1.3"/>
<text x="65.5" y="821.6" font-size="13.5" fill="#404040" text-anchor="end">3</text>
<line x1="79.8" y1="836.8" x2="802.2" y2="836.8" stroke="#ededed" stroke-width="1.3"/>
<text x="65.5" y="842.2" font-size="13.5" fill="#404040" text-anchor="end">2</text>
<line x1="79.8" y1="857.4" x2="802.2" y2="857.4" stroke="#ededed" stroke-width="1.3"/>
<text x="65.5" y="862.8" font-size="13.5" fill="#404040" text-anchor="end">1</text>
<text x="65.5" y="883.4" font-size="13.5" fill="#404040" text-anchor="end">0</text>
<line x1="79.8" y1="898.6" x2="802.2" y2="898.6" stroke="#ededed" stroke-width="1.3"/>
<text x="65.5" y="904.0" font-size="13.5" fill="#404040" text-anchor="end">−1</text>
<line x1="79.8" y1="919.2" x2="802.2" y2="919.2" stroke="#ededed" stroke-width="1.3"/>
<text x="65.5" y="924.6" font-size="13.5" fill="#404040" text-anchor="end">−2</text>
<rect x="83.66" y="861.73" width="9.07" height="16.27" fill="#000000"/>
<rect x="100.46" y="851.43" width="9.07" height="26.57" fill="#a6a6a6"/>
<rect x="117.26" y="849.78" width="9.07" height="28.22" fill="#a6a6a6"/>
<rect x="134.06" y="777.47" width="9.07" height="100.53" fill="#a6a6a6"/>
<rect x="150.86" y="878.00" width="9.07" height="10.92" fill="#a6a6a6"/>
<rect x="167.66" y="804.87" width="9.07" height="73.13" fill="#a6a6a6"/>
<rect x="184.46" y="804.87" width="9.07" height="73.13" fill="#a6a6a6"/>
<rect x="201.26" y="827.12" width="9.07" height="50.88" fill="#a6a6a6"/>
<rect x="218.06" y="874.09" width="9.07" height="3.91" fill="#a6a6a6"/>
<rect x="234.86" y="878.00" width="9.07" height="7.83" fill="#a6a6a6"/>
<rect x="251.66" y="877.38" width="9.07" height="0.62" fill="#000000"/>
<rect x="285.26" y="861.52" width="9.07" height="16.48" fill="#975200"/>
<rect x="318.86" y="857.81" width="9.07" height="20.19" fill="#975200"/>
<rect x="335.66" y="846.89" width="9.07" height="31.11" fill="#975200"/>
<rect x="352.46" y="835.98" width="9.07" height="42.02" fill="#975200"/>
<rect x="369.26" y="858.43" width="9.07" height="19.57" fill="#a6a6a6"/>
<rect x="386.06" y="878.00" width="9.07" height="15.66" fill="#a6a6a6"/>
<rect x="402.86" y="835.98" width="9.07" height="42.02" fill="#a6a6a6"/>
<rect x="419.66" y="845.66" width="9.07" height="32.34" fill="#a6a6a6"/>
<rect x="436.46" y="832.06" width="9.07" height="45.94" fill="#a6a6a6"/>
<rect x="453.26" y="843.60" width="9.07" height="34.40" fill="#a6a6a6"/>
<rect x="470.06" y="854.72" width="9.07" height="23.28" fill="#f79646"/>
<rect x="486.86" y="873.26" width="9.07" height="4.74" fill="#f79646"/>
<rect x="503.66" y="878.00" width="9.07" height="17.10" fill="#f79646"/>
<rect x="520.46" y="788.80" width="9.07" height="89.20" fill="#00b050"/>
<rect x="537.26" y="799.72" width="9.07" height="78.28" fill="#00b050"/>
<rect x="554.06" y="813.32" width="9.07" height="64.68" fill="#00b050"/>
<rect x="570.86" y="821.76" width="9.07" height="56.24" fill="#f79646"/>
<rect x="604.46" y="838.04" width="9.07" height="39.96" fill="#0070c0"/>
<rect x="621.26" y="837.42" width="9.07" height="40.58" fill="#0070c0"/>
<rect x="638.06" y="839.27" width="9.07" height="38.73" fill="#0070c0"/>
<rect x="654.86" y="871.20" width="9.07" height="6.80" fill="#a6a6a6"/>
<rect x="671.66" y="780.56" width="9.07" height="97.44" fill="#f79646"/>
<rect x="688.46" y="815.17" width="9.07" height="62.83" fill="#7030a0"/>
<rect x="705.26" y="872.44" width="9.07" height="5.56" fill="#7030a0"/>
<rect x="738.86" y="878.00" width="9.07" height="2.06" fill="#7030a0"/>
<rect x="772.46" y="861.93" width="9.07" height="16.07" fill="#7030a0"/>
<rect x="789.26" y="869.97" width="9.07" height="8.03" fill="#7030a0"/>
<line x1="79.8" y1="878.0" x2="802.2" y2="878.0" stroke="#404040" stroke-width="1.6"/>
<path d="M79.80 878.0v4.2M96.60 878.0v4.2M113.40 878.0v4.2M130.20 878.0v4.2M147.00 878.0v4.2M163.80 878.0v4.2M180.60 878.0v4.2M197.40 878.0v4.2M214.20 878.0v4.2M231.00 878.0v4.2M247.80 878.0v4.2M264.60 878.0v4.2M281.40 878.0v4.2M298.20 878.0v4.2M315.00 878.0v4.2M331.80 878.0v4.2M348.60 878.0v4.2M365.40 878.0v4.2M382.20 878.0v4.2M399.00 878.0v4.2M415.80 878.0v4.2M432.60 878.0v4.2M449.40 878.0v4.2M466.20 878.0v4.2M483.00 878.0v4.2M499.80 878.0v4.2M516.60 878.0v4.2M533.40 878.0v4.2M550.20 878.0v4.2M567.00 878.0v4.2M583.80 878.0v4.2M600.60 878.0v4.2M617.40 878.0v4.2M634.20 878.0v4.2M651.00 878.0v4.2M667.80 878.0v4.2M684.60 878.0v4.2M701.40 878.0v4.2M718.20 878.0v4.2M735.00 878.0v4.2M751.80 878.0v4.2M768.60 878.0v4.2M785.40 878.0v4.2M802.20 878.0v4.2" stroke="#404040" stroke-width="1.4"/>
<text transform="translate(93.28 888.6) rotate(-90)" text-anchor="end" font-size="14.2" font-weight="bold" fill="#111">S100A10</text>
<text transform="translate(110.08 888.6) rotate(-90)" text-anchor="end" font-size="14.2" font-weight="bold" fill="#111">EDYM2</text>
<text transform="translate(126.88 888.6) rotate(-90)" text-anchor="end" font-size="14.2" font-weight="bold" fill="#111">EDQREP</text>
<text transform="translate(143.68 888.6) rotate(-90)" text-anchor="end" font-size="14.2" font-weight="bold" fill="#111">EDP3</text>
<text transform="translate(160.48 888.6) rotate(-90)" text-anchor="end" font-size="14.2" font-weight="bold" fill="#111">EDPE</text>
<text transform="translate(177.28 888.6) rotate(-90)" text-anchor="end" font-size="14.2" font-weight="bold" fill="#111">EDQCM</text>
<text transform="translate(194.08 888.6) rotate(-90)" text-anchor="end" font-size="14.2" font-weight="bold" fill="#111">EDDM</text>
<text transform="translate(210.88 888.6) rotate(-90)" text-anchor="end" font-size="14.2" font-weight="bold" fill="#111">EDNC</text>
<text transform="translate(227.68 888.6) rotate(-90)" text-anchor="end" font-size="14.2" font-weight="bold" fill="#111">CRNN</text>
<text transform="translate(244.48 888.6) rotate(-90)" text-anchor="end" font-size="14.2" font-weight="bold" fill="#111">SCFN</text>
<text transform="translate(261.28 888.6) rotate(-90)" text-anchor="end" font-size="14.2" font-weight="bold" fill="#111">S100A11</text>
<text transform="translate(278.08 888.6) rotate(-90)" text-anchor="end" font-size="14.2" font-weight="bold" fill="#111">EDMTF3</text>
<text transform="translate(294.88 888.6) rotate(-90)" text-anchor="end" font-size="14.2" font-weight="bold" fill="#111">EDMTF1</text>
<text transform="translate(311.68 888.6) rotate(-90)" text-anchor="end" font-size="14.2" font-weight="bold" fill="#111">EDMTF5</text>
<text transform="translate(328.48 888.6) rotate(-90)" text-anchor="end" font-size="14.2" font-weight="bold" fill="#111">EDMTF2</text>
<text transform="translate(345.28 888.6) rotate(-90)" text-anchor="end" font-size="14.2" font-weight="bold" fill="#111">EDMTF4</text>
<text transform="translate(362.08 888.6) rotate(-90)" text-anchor="end" font-size="14.2" font-weight="bold" fill="#111">EDMTFH</text>
<text transform="translate(378.88 888.6) rotate(-90)" text-anchor="end" font-size="14.2" font-weight="bold" fill="#111">EDBETA</text>
<text transform="translate(395.68 888.6) rotate(-90)" text-anchor="end" font-size="14.2" font-weight="bold" fill="#111">EDYM1</text>
<text transform="translate(412.48 888.6) rotate(-90)" text-anchor="end" font-size="14.2" font-weight="bold" fill="#111">LOR3</text>
<text transform="translate(429.28 888.6) rotate(-90)" text-anchor="end" font-size="14.2" font-weight="bold" fill="#111">LOR1</text>
<text transform="translate(446.08 888.6) rotate(-90)" text-anchor="end" font-size="14.2" font-weight="bold" fill="#111">EDGH</text>
<text transform="translate(462.88 888.6) rotate(-90)" text-anchor="end" font-size="14.2" font-weight="bold" fill="#111">EDQL</text>
<text transform="translate(479.68 888.6) rotate(-90)" text-anchor="end" font-size="14.2" font-weight="bold" fill="#111">EDCH4</text>
<text transform="translate(496.48 888.6) rotate(-90)" text-anchor="end" font-size="14.2" font-weight="bold" fill="#111">EDCH3</text>
<text transform="translate(513.28 888.6) rotate(-90)" text-anchor="end" font-size="14.2" font-weight="bold" fill="#111">EDCH2</text>
<text transform="translate(530.08 888.6) rotate(-90)" text-anchor="end" font-size="14.2" font-weight="bold" fill="#111">EDCRP</text>
<text transform="translate(546.88 888.6) rotate(-90)" text-anchor="end" font-size="14.2" font-weight="bold" fill="#111">EDMPN2</text>
<text transform="translate(563.68 888.6) rotate(-90)" text-anchor="end" font-size="14.2" font-weight="bold" fill="#111">EDMPN1</text>
<text transform="translate(580.48 888.6) rotate(-90)" text-anchor="end" font-size="14.2" font-weight="bold" fill="#111">EDCH5</text>
<text transform="translate(597.28 888.6) rotate(-90)" text-anchor="end" font-size="14.2" font-weight="bold" fill="#111">EDWM</text>
<text transform="translate(614.08 888.6) rotate(-90)" text-anchor="end" font-size="14.2" font-weight="bold" fill="#111">EDQM3</text>
<text transform="translate(630.88 888.6) rotate(-90)" text-anchor="end" font-size="14.2" font-weight="bold" fill="#111">EDQM2</text>
<text transform="translate(647.68 888.6) rotate(-90)" text-anchor="end" font-size="14.2" font-weight="bold" fill="#111">EDQM1</text>
<text transform="translate(664.48 888.6) rotate(-90)" text-anchor="end" font-size="14.2" font-weight="bold" fill="#111">EDKM</text>
<text transform="translate(681.28 888.6) rotate(-90)" text-anchor="end" font-size="14.2" font-weight="bold" fill="#111">EDCH1</text>
<text transform="translate(698.08 888.6) rotate(-90)" text-anchor="end" font-size="14.2" font-weight="bold" fill="#111">S100A9</text>
<text transform="translate(714.88 888.6) rotate(-90)" text-anchor="end" font-size="14.2" font-weight="bold" fill="#111">S100A6</text>
<text transform="translate(731.68 888.6) rotate(-90)" text-anchor="end" font-size="14.2" font-weight="bold" fill="#111">S100A4</text>
<text transform="translate(748.48 888.6) rotate(-90)" text-anchor="end" font-size="14.2" font-weight="bold" fill="#111">S100A16</text>
<text transform="translate(765.28 888.6) rotate(-90)" text-anchor="end" font-size="14.2" font-weight="bold" fill="#111">S100A14</text>
<text transform="translate(782.08 888.6) rotate(-90)" text-anchor="end" font-size="14.2" font-weight="bold" fill="#111">S100A13</text>
<text transform="translate(798.88 888.6) rotate(-90)" text-anchor="end" font-size="14.2" font-weight="bold" fill="#111">S100A1</text>
<path d="M89.10 848.60L89.10 856.00M85.90 850.45L92.30 854.15M92.30 850.45L85.90 854.15M139.00 754.20L139.00 761.60M135.80 756.05L142.20 759.75M142.20 756.05L135.80 759.75M139.00 765.10L139.00 772.50M135.80 766.95L142.20 770.65M142.20 766.95L135.80 770.65M172.30 783.80L172.30 791.20M169.10 785.65L175.50 789.35M175.50 785.65L169.10 789.35M172.30 794.10L172.30 801.50M169.10 795.95L175.50 799.65M175.50 795.95L169.10 799.65M408.10 814.60L408.10 822.00M404.90 816.45L411.30 820.15M411.30 816.45L404.90 820.15M408.10 824.30L408.10 831.70M404.90 826.15L411.30 829.85M411.30 826.15L404.90 829.85M442.00 810.40L442.00 817.80M438.80 812.25L445.20 815.95M445.20 812.25L438.80 815.95M442.00 820.10L442.00 827.50M438.80 821.95L445.20 825.65M445.20 821.95L438.80 825.65M459.10 822.30L459.10 829.70M455.90 824.15L462.30 827.85M462.30 824.15L455.90 827.85M459.10 832.00L459.10 839.40M455.90 833.85L462.30 837.55M462.30 833.85L455.90 837.55M476.60 844.30L476.60 851.70M473.40 846.15L479.80 849.85M479.80 846.15L473.40 849.85M525.40 768.40L525.40 775.80M522.20 770.25L528.60 773.95M528.60 770.25L522.20 773.95M525.40 779.00L525.40 786.40M522.20 780.85L528.60 784.55M528.60 780.85L522.20 784.55M542.20 779.00L542.20 786.40M539.00 780.85L545.40 784.55M545.40 780.85L539.00 784.55M542.20 789.40L542.20 796.80M539.00 791.25L545.40 794.95M545.40 791.25L539.00 794.95M559.00 792.00L559.00 799.40M555.80 793.85L562.20 797.55M562.20 793.85L555.80 797.55M559.00 802.30L559.00 809.70M555.80 804.15L562.20 807.85M562.20 804.15L555.80 807.85M576.10 800.70L576.10 808.10M572.90 802.55L579.30 806.25M579.30 802.55L572.90 806.25M576.10 811.30L576.10 818.70M572.90 813.15L579.30 816.85M579.30 813.15L572.90 816.85M610.00 826.50L610.00 833.90M606.80 828.35L613.20 832.05M613.20 828.35L606.80 832.05M626.80 826.50L626.80 833.90M623.60 828.35L630.00 832.05M630.00 828.35L623.60 832.05M642.30 827.50L642.30 834.90M639.10 829.35L645.50 833.05M645.50 829.35L639.10 833.05M677.20 759.70L677.20 767.10M674.00 761.55L680.40 765.25M680.40 761.55L674.00 765.25M677.20 770.00L677.20 777.40M674.00 771.85L680.40 775.55M680.40 771.85L674.00 775.55M694.00 794.30L694.00 801.70M690.80 796.15L697.20 799.85M697.20 796.15L690.80 799.85M694.00 804.90L694.00 812.30M690.80 806.75L697.20 810.45M697.20 806.75L690.80 810.45" stroke="#1a1a1a" stroke-width="1.2" stroke-linecap="round" fill="none"/>
<text transform="translate(34.6 849.3) rotate(-90)" text-anchor="middle" font-size="14.6" fill="#222">log<tspan font-size="9.5" dy="2.2">2</tspan><tspan dy="-2.2">FoldChange</tspan></text>
<line x1="66.3" y1="1081.6" x2="811.5" y2="1081.6" stroke="#ededed" stroke-width="1.3"/>
<text x="58.3" y="1086.8" font-size="13.0" fill="#404040" text-anchor="end">4</text>
<line x1="66.3" y1="1101.1" x2="811.5" y2="1101.1" stroke="#ededed" stroke-width="1.3"/>
<text x="58.3" y="1106.3" font-size="13.0" fill="#404040" text-anchor="end">3</text>
<line x1="66.3" y1="1120.7" x2="811.5" y2="1120.7" stroke="#ededed" stroke-width="1.3"/>
<text x="58.3" y="1125.9" font-size="13.0" fill="#404040" text-anchor="end">2</text>
<line x1="66.3" y1="1140.2" x2="811.5" y2="1140.2" stroke="#ededed" stroke-width="1.3"/>
<text x="58.3" y="1145.5" font-size="13.0" fill="#404040" text-anchor="end">1</text>
<text x="58.3" y="1165.0" font-size="13.0" fill="#404040" text-anchor="end">0</text>
<line x1="66.3" y1="1179.3" x2="811.5" y2="1179.3" stroke="#ededed" stroke-width="1.3"/>
<text x="58.3" y="1184.5" font-size="13.0" fill="#404040" text-anchor="end">−1</text>
<line x1="66.3" y1="1198.9" x2="811.5" y2="1198.9" stroke="#ededed" stroke-width="1.3"/>
<text x="58.3" y="1204.1" font-size="13.0" fill="#404040" text-anchor="end">−2</text>
<line x1="66.3" y1="1218.5" x2="811.5" y2="1218.5" stroke="#ededed" stroke-width="1.3"/>
<text x="58.3" y="1223.7" font-size="13.0" fill="#404040" text-anchor="end">−3</text>
<line x1="66.3" y1="1238.0" x2="811.5" y2="1238.0" stroke="#ededed" stroke-width="1.3"/>
<text x="58.3" y="1243.2" font-size="13.0" fill="#404040" text-anchor="end">−4</text>
<rect x="70.29" y="1151.20" width="9.36" height="8.60" fill="#000000"/>
<rect x="87.62" y="1159.80" width="9.36" height="7.62" fill="#a6a6a6"/>
<rect x="104.95" y="1159.80" width="9.36" height="15.64" fill="#a6a6a6"/>
<rect x="122.28" y="1130.87" width="9.36" height="28.93" fill="#a6a6a6"/>
<rect x="139.61" y="1158.24" width="9.36" height="1.56" fill="#a6a6a6"/>
<rect x="156.94" y="1126.57" width="9.36" height="33.23" fill="#a6a6a6"/>
<rect x="174.27" y="1151.59" width="9.36" height="8.21" fill="#a6a6a6"/>
<rect x="191.60" y="1122.07" width="9.36" height="37.73" fill="#a6a6a6"/>
<rect x="208.93" y="1126.57" width="9.36" height="33.23" fill="#a6a6a6"/>
<rect x="226.26" y="1128.91" width="9.36" height="30.89" fill="#a6a6a6"/>
<rect x="243.59" y="1159.20" width="9.36" height="0.60" fill="#000000"/>
<rect x="260.92" y="1158.82" width="9.36" height="0.98" fill="#975200"/>
<rect x="278.25" y="1159.80" width="9.36" height="1.96" fill="#975200"/>
<rect x="295.58" y="1159.80" width="9.36" height="11.73" fill="#975200"/>
<rect x="312.91" y="1159.80" width="9.36" height="6.65" fill="#975200"/>
<rect x="330.24" y="1159.80" width="9.36" height="60.61" fill="#975200"/>
<rect x="347.57" y="1159.80" width="9.36" height="23.85" fill="#975200"/>
<rect x="364.90" y="1159.80" width="9.36" height="11.73" fill="#a6a6a6"/>
<rect x="382.23" y="1159.80" width="9.36" height="60.61" fill="#a6a6a6"/>
<rect x="399.56" y="1159.80" width="9.36" height="67.25" fill="#a6a6a6"/>
<rect x="416.89" y="1159.80" width="9.36" height="11.34" fill="#a6a6a6"/>
<rect x="434.22" y="1159.80" width="9.36" height="44.77" fill="#a6a6a6"/>
<rect x="451.55" y="1159.80" width="9.36" height="8.41" fill="#a6a6a6"/>
<rect x="468.88" y="1159.80" width="9.36" height="39.10" fill="#f79646"/>
<rect x="486.21" y="1159.80" width="9.36" height="33.82" fill="#f79646"/>
<rect x="503.54" y="1159.80" width="9.36" height="40.08" fill="#f79646"/>
<rect x="520.87" y="1105.06" width="9.36" height="54.74" fill="#00b050"/>
<rect x="538.20" y="1156.67" width="9.36" height="3.13" fill="#00b050"/>
<rect x="555.53" y="1127.93" width="9.36" height="31.87" fill="#00b050"/>
<rect x="572.86" y="1159.80" width="9.36" height="7.82" fill="#f79646"/>
<rect x="590.19" y="1159.80" width="9.36" height="41.05" fill="#a6a6a6"/>
<rect x="607.52" y="1159.80" width="9.36" height="7.23" fill="#0070c0"/>
<rect x="624.85" y="1159.80" width="9.36" height="41.05" fill="#0070c0"/>
<rect x="642.18" y="1159.80" width="9.36" height="44.77" fill="#0070c0"/>
<rect x="659.51" y="1159.80" width="9.36" height="7.82" fill="#a6a6a6"/>
<rect x="676.84" y="1159.80" width="9.36" height="8.99" fill="#f79646"/>
<rect x="694.17" y="1105.06" width="9.36" height="54.74" fill="#7030a0"/>
<rect x="711.50" y="1148.27" width="9.36" height="11.53" fill="#7030a0"/>
<rect x="728.83" y="1159.80" width="9.36" height="10.56" fill="#7030a0"/>
<rect x="746.16" y="1159.80" width="9.36" height="10.95" fill="#7030a0"/>
<rect x="763.49" y="1159.80" width="9.36" height="7.04" fill="#7030a0"/>
<rect x="780.82" y="1157.85" width="9.36" height="1.96" fill="#7030a0"/>
<rect x="798.15" y="1159.80" width="9.36" height="7.23" fill="#7030a0"/>
<line x1="66.3" y1="1159.8" x2="811.5" y2="1159.8" stroke="#404040" stroke-width="1.6"/>
<path d="M66.30 1159.8v4.2M83.63 1159.8v4.2M100.96 1159.8v4.2M118.29 1159.8v4.2M135.62 1159.8v4.2M152.95 1159.8v4.2M170.28 1159.8v4.2M187.61 1159.8v4.2M204.94 1159.8v4.2M222.27 1159.8v4.2M239.60 1159.8v4.2M256.93 1159.8v4.2M274.26 1159.8v4.2M291.59 1159.8v4.2M308.92 1159.8v4.2M326.25 1159.8v4.2M343.58 1159.8v4.2M360.91 1159.8v4.2M378.24 1159.8v4.2M395.57 1159.8v4.2M412.90 1159.8v4.2M430.23 1159.8v4.2M447.56 1159.8v4.2M464.89 1159.8v4.2M482.22 1159.8v4.2M499.55 1159.8v4.2M516.88 1159.8v4.2M534.21 1159.8v4.2M551.54 1159.8v4.2M568.87 1159.8v4.2M586.20 1159.8v4.2M603.53 1159.8v4.2M620.86 1159.8v4.2M638.19 1159.8v4.2M655.52 1159.8v4.2M672.85 1159.8v4.2M690.18 1159.8v4.2M707.51 1159.8v4.2M724.84 1159.8v4.2M742.17 1159.8v4.2M759.50 1159.8v4.2M776.83 1159.8v4.2M794.16 1159.8v4.2M811.49 1159.8v4.2" stroke="#404040" stroke-width="1.4"/>
<text transform="translate(79.69 1169.0) rotate(-90)" text-anchor="end" font-size="13.2" font-weight="bold" fill="#111">S100A10</text>
<text transform="translate(97.02 1169.0) rotate(-90)" text-anchor="end" font-size="13.2" font-weight="bold" fill="#111">EDYM2</text>
<text transform="translate(114.35 1169.0) rotate(-90)" text-anchor="end" font-size="13.2" font-weight="bold" fill="#111">EDQREP</text>
<text transform="translate(131.68 1169.0) rotate(-90)" text-anchor="end" font-size="13.2" font-weight="bold" fill="#111">EDPE</text>
<text transform="translate(149.01 1169.0) rotate(-90)" text-anchor="end" font-size="13.2" font-weight="bold" fill="#111">EDP3</text>
<text transform="translate(166.34 1169.0) rotate(-90)" text-anchor="end" font-size="13.2" font-weight="bold" fill="#111">EDQCM</text>
<text transform="translate(183.67 1169.0) rotate(-90)" text-anchor="end" font-size="13.2" font-weight="bold" fill="#111">EDDM</text>
<text transform="translate(201.00 1169.0) rotate(-90)" text-anchor="end" font-size="13.2" font-weight="bold" fill="#111">EDNC</text>
<text transform="translate(218.33 1169.0) rotate(-90)" text-anchor="end" font-size="13.2" font-weight="bold" fill="#111">CRNN</text>
<text transform="translate(235.66 1169.0) rotate(-90)" text-anchor="end" font-size="13.2" font-weight="bold" fill="#111">SCFN</text>
<text transform="translate(252.99 1169.0) rotate(-90)" text-anchor="end" font-size="13.2" font-weight="bold" fill="#111">S100A11</text>
<text transform="translate(270.32 1169.0) rotate(-90)" text-anchor="end" font-size="13.2" font-weight="bold" fill="#111">EDMTF3</text>
<text transform="translate(287.65 1169.0) rotate(-90)" text-anchor="end" font-size="13.2" font-weight="bold" fill="#111">EDMTF1</text>
<text transform="translate(304.98 1169.0) rotate(-90)" text-anchor="end" font-size="13.2" font-weight="bold" fill="#111">EDMTF5</text>
<text transform="translate(322.31 1169.0) rotate(-90)" text-anchor="end" font-size="13.2" font-weight="bold" fill="#111">EDMTF2</text>
<text transform="translate(339.64 1169.0) rotate(-90)" text-anchor="end" font-size="13.2" font-weight="bold" fill="#111">EDMTF4</text>
<text transform="translate(356.97 1169.0) rotate(-90)" text-anchor="end" font-size="13.2" font-weight="bold" fill="#111">EDMTFH</text>
<text transform="translate(374.30 1169.0) rotate(-90)" text-anchor="end" font-size="13.2" font-weight="bold" fill="#111">EDBETA</text>
<text transform="translate(391.63 1169.0) rotate(-90)" text-anchor="end" font-size="13.2" font-weight="bold" fill="#111">EDYM1</text>
<text transform="translate(408.96 1169.0) rotate(-90)" text-anchor="end" font-size="13.2" font-weight="bold" fill="#111">LOR3</text>
<text transform="translate(426.29 1169.0) rotate(-90)" text-anchor="end" font-size="13.2" font-weight="bold" fill="#111">LOR1</text>
<text transform="translate(443.62 1169.0) rotate(-90)" text-anchor="end" font-size="13.2" font-weight="bold" fill="#111">EDGH</text>
<text transform="translate(460.95 1169.0) rotate(-90)" text-anchor="end" font-size="13.2" font-weight="bold" fill="#111">EDQL</text>
<text transform="translate(478.28 1169.0) rotate(-90)" text-anchor="end" font-size="13.2" font-weight="bold" fill="#111">EDCH4</text>
<text transform="translate(495.61 1169.0) rotate(-90)" text-anchor="end" font-size="13.2" font-weight="bold" fill="#111">EDCH3</text>
<text transform="translate(512.94 1169.0) rotate(-90)" text-anchor="end" font-size="13.2" font-weight="bold" fill="#111">EDCH2</text>
<text transform="translate(530.27 1169.0) rotate(-90)" text-anchor="end" font-size="13.2" font-weight="bold" fill="#111">EDCRP</text>
<text transform="translate(547.60 1169.0) rotate(-90)" text-anchor="end" font-size="13.2" font-weight="bold" fill="#111">EDMPN2</text>
<text transform="translate(564.93 1169.0) rotate(-90)" text-anchor="end" font-size="13.2" font-weight="bold" fill="#111">EDMPN1</text>
<text transform="translate(582.26 1169.0) rotate(-90)" text-anchor="end" font-size="13.2" font-weight="bold" fill="#111">EDCH5</text>
<text transform="translate(599.59 1169.0) rotate(-90)" text-anchor="end" font-size="13.2" font-weight="bold" fill="#111">EDWM</text>
<text transform="translate(616.92 1169.0) rotate(-90)" text-anchor="end" font-size="13.2" font-weight="bold" fill="#111">EDQM3</text>
<text transform="translate(634.25 1169.0) rotate(-90)" text-anchor="end" font-size="13.2" font-weight="bold" fill="#111">EDQM2</text>
<text transform="translate(651.58 1169.0) rotate(-90)" text-anchor="end" font-size="13.2" font-weight="bold" fill="#111">EDQM1</text>
<text transform="translate(668.91 1169.0) rotate(-90)" text-anchor="end" font-size="13.2" font-weight="bold" fill="#111">EDKM</text>
<text transform="translate(686.24 1169.0) rotate(-90)" text-anchor="end" font-size="13.2" font-weight="bold" fill="#111">EDCH1</text>
<text transform="translate(703.57 1169.0) rotate(-90)" text-anchor="end" font-size="13.2" font-weight="bold" fill="#111">S100A9</text>
<text transform="translate(720.90 1169.0) rotate(-90)" text-anchor="end" font-size="13.2" font-weight="bold" fill="#111">S100A6</text>
<text transform="translate(738.23 1169.0) rotate(-90)" text-anchor="end" font-size="13.2" font-weight="bold" fill="#111">S100A4</text>
<text transform="translate(755.56 1169.0) rotate(-90)" text-anchor="end" font-size="13.2" font-weight="bold" fill="#111">S100A16</text>
<text transform="translate(772.89 1169.0) rotate(-90)" text-anchor="end" font-size="13.2" font-weight="bold" fill="#111">S100A14</text>
<text transform="translate(790.22 1169.0) rotate(-90)" text-anchor="end" font-size="13.2" font-weight="bold" fill="#111">S100A13</text>
<text transform="translate(807.55 1169.0) rotate(-90)" text-anchor="end" font-size="13.2" font-weight="bold" fill="#111">S100A1</text>
<path d="M161.50 1222.80L161.50 1230.20M158.30 1224.65L164.70 1228.35M164.70 1224.65L158.30 1228.35M161.50 1232.30L161.50 1239.70M158.30 1234.15L164.70 1237.85M164.70 1234.15L158.30 1237.85M335.90 1229.00L335.90 1236.40M332.70 1230.85L339.10 1234.55M339.10 1230.85L332.70 1234.55M335.90 1239.90L335.90 1247.30M332.70 1241.75L339.10 1245.45M339.10 1241.75L332.70 1245.45M385.70 1227.40L385.70 1234.80M382.50 1229.25L388.90 1232.95M388.90 1229.25L382.50 1232.95M385.70 1238.30L385.70 1245.70M382.50 1240.15L388.90 1243.85M388.90 1240.15L382.50 1243.85M403.90 1231.80L403.90 1239.20M400.70 1233.65L407.10 1237.35M407.10 1233.65L400.70 1237.35M403.90 1242.60L403.90 1250.00M400.70 1244.45L407.10 1248.15M407.10 1244.45L400.70 1248.15M438.10 1211.30L438.10 1218.70M434.90 1213.15L441.30 1216.85M441.30 1213.15L434.90 1216.85M438.10 1222.00L438.10 1229.40M434.90 1223.85L441.30 1227.55M441.30 1223.85L434.90 1227.55M474.30 1222.00L474.30 1229.40M471.10 1223.85L477.50 1227.55M477.50 1223.85L471.10 1227.55M474.30 1231.70L474.30 1239.10M471.10 1233.55L477.50 1237.25M477.50 1233.55L471.10 1237.25M491.40 1222.00L491.40 1229.40M488.20 1223.85L494.60 1227.55M494.60 1223.85L488.20 1227.55M491.40 1231.70L491.40 1239.10M488.20 1233.55L494.60 1237.25M494.60 1233.55L488.20 1237.25M698.90 1081.50L698.90 1088.90M695.70 1083.35L702.10 1087.05M702.10 1083.35L695.70 1087.05M698.90 1091.80L698.90 1099.20M695.70 1093.65L702.10 1097.35M702.10 1093.65L695.70 1097.35" stroke="#1a1a1a" stroke-width="1.2" stroke-linecap="round" fill="none"/>
<text transform="translate(34.6 1154.3) rotate(-90)" text-anchor="middle" font-size="14.6" fill="#222">log<tspan font-size="9.5" dy="2.2">2</tspan><tspan dy="-2.2">FoldChange</tspan></text>
<path d="M523.3 318.4L523.3 323.3Q523.3 326.3 526.3 326.3L542.2 326.3Q545.2 326.3 545.2 329.3L545.2 333.6M545.2 329.3Q545.2 326.3 548.2 326.3L564.2 326.3Q567.2 326.3 567.2 323.3L567.2 318.4" fill="none" stroke="#444" stroke-width="1.25"/>
<text x="549.6" y="354.4" font-size="24.5" font-weight="bold" fill="#000" text-anchor="middle" >(a’)</text>
<path d="M731.0 292.0L731.0 297.0Q731.0 300.0 734.0 300.0L766.0 300.0Q769.0 300.0 769.0 303.0L769.0 308.7M769.0 303.0Q769.0 300.0 772.0 300.0L804.0 300.0Q807.0 300.0 807.0 297.0L807.0 292.0" fill="none" stroke="#444" stroke-width="1.25"/>
<text x="771.9" y="328.7" font-size="23.5" font-weight="bold" fill="#000" text-anchor="middle" >(a’’)</text>
<path d="M469.2 462.7L469.2 458.0Q469.2 455.0 472.2 455.0L488.7 455.0Q491.7 455.0 491.7 452.0L491.7 447.7M491.7 452.0Q491.7 455.0 494.7 455.0L511.2 455.0Q514.2 455.0 514.2 458.0L514.2 462.7" fill="none" stroke="#444" stroke-width="1.25"/>
<text x="490.6" y="442.8" font-size="24.5" font-weight="bold" fill="#000" text-anchor="middle" >(b’’)</text>
<path d="M521.9 599.3L521.9 604.2Q521.9 607.2 524.9 607.2L541.2 607.2Q544.2 607.2 544.2 610.2L544.2 614.3M544.2 610.2Q544.2 607.2 547.2 607.2L563.5 607.2Q566.5 607.2 566.5 604.2L566.5 599.3" fill="none" stroke="#444" stroke-width="1.25"/>
<text x="546.3" y="638.0" font-size="24.5" font-weight="bold" fill="#000" text-anchor="middle" >(b’)</text>
<path d="M699.0 584.5L699.0 588.2Q699.0 591.2 702.0 591.2L751.7 591.2Q754.7 591.2 754.7 594.2L754.7 598.3M754.7 594.2Q754.7 591.2 757.7 591.2L807.4 591.2Q810.4 591.2 810.4 588.2L810.4 584.5" fill="none" stroke="#444" stroke-width="1.25"/>
<path d="M285.1 828.9L285.1 823.8Q285.1 820.8 288.1 820.8L318.9 820.8Q321.9 820.8 321.9 817.8L321.9 810.8M321.9 817.8Q321.9 820.8 324.9 820.8L355.6 820.8Q358.6 820.8 358.6 823.8L358.6 828.9" fill="none" stroke="#444" stroke-width="1.25"/>
<path d="M522.8 762.4L522.8 758.0Q522.8 755.0 525.8 755.0L542.1 755.0Q545.1 755.0 545.1 752.0L545.1 747.9M545.1 752.0Q545.1 755.0 548.1 755.0L564.4 755.0Q567.4 755.0 567.4 758.0L567.4 762.4" fill="none" stroke="#444" stroke-width="1.25"/>
<text x="547.0" y="741.0" font-size="24.5" font-weight="bold" fill="#000" text-anchor="middle" >(c’)</text>
<path d="M606.8 823.8L606.8 817.1Q606.8 814.1 609.8 814.1L625.1 814.1Q628.1 814.1 628.1 811.1L628.1 806.0M628.1 811.1Q628.1 814.1 631.1 814.1L646.4 814.1Q649.4 814.1 649.4 817.1L649.4 823.8" fill="none" stroke="#444" stroke-width="1.25"/>
<text x="632.6" y="799.6" font-size="24.5" font-weight="bold" fill="#000" text-anchor="middle" >(c’’)</text>
<path d="M521.2 1098.0L521.2 1093.0Q521.2 1090.0 524.2 1090.0L540.5 1090.0Q543.5 1090.0 543.5 1087.0L543.5 1083.5M543.5 1087.0Q543.5 1090.0 546.5 1090.0L562.7 1090.0Q565.7 1090.0 565.7 1093.0L565.7 1098.0" fill="none" stroke="#444" stroke-width="1.25"/>
<text x="546.2" y="1073.6" font-size="24.5" font-weight="bold" fill="#000" text-anchor="middle" >(d’)</text>
<path d="M469.5 1243.5L469.5 1247.6Q469.5 1250.6 472.5 1250.6L488.3 1250.6Q491.3 1250.6 491.3 1253.6L491.3 1258.0M491.3 1253.6Q491.3 1250.6 494.3 1250.6L510.1 1250.6Q513.1 1250.6 513.1 1247.6L513.1 1243.5" fill="none" stroke="#444" stroke-width="1.25"/>
<text x="491.6" y="1278.6" font-size="24.5" font-weight="bold" fill="#000" text-anchor="middle" >(d’’)</text>
<rect x="826.5" y="10.8" width="223.0" height="355.4" fill="none" stroke="#c4c4c4" stroke-width="1.4"/>
<text x="833.7" y="38.6" font-size="32" font-weight="bold" fill="#000">a'</text>
<text x="865.6" y="115.3" font-size="19.7" font-weight="bold" fill="#00b050" textLength="181" lengthAdjust="spacingAndGlyphs">EDCRP sub-cluster</text>
<rect x="881.4" y="121.0" width="160.2" height="18.2" fill="#fff"/>
<rect x="879.9" y="139.2" width="162.2" height="8.3" fill="#f0f0f3"/>
<rect x="881.4" y="147.5" width="160.2" height="154.3" fill="#f7f7f7"/>
<text x="907.5" y="133.8" font-size="10.6" font-weight="bold" fill="#111" text-anchor="middle">EDCRP</text>
<text x="962.7" y="133.8" font-size="10.6" font-weight="bold" fill="#111" text-anchor="middle">EDMPN2</text>
<text x="1017.2" y="133.8" font-size="10.6" font-weight="bold" fill="#111" text-anchor="middle">EDMPN1</text>
<line x1="890.7" y1="143.3" x2="920.7" y2="143.3" stroke="#0b0bb0" stroke-width="1"/>
<rect x="898.7" y="140.8" width="17.6" height="5.2" rx="1.2" fill="#0b0bb0"/>
<line x1="959.4" y1="143.3" x2="969" y2="143.3" stroke="#0b0bb0" stroke-width="1"/>
<rect x="963.5" y="140.8" width="6.0" height="5.2" rx="1.2" fill="#0b0bb0"/>
<line x1="1011.3" y1="143.3" x2="1026.7" y2="143.3" stroke="#0b0bb0" stroke-width="1"/>
<rect x="1018" y="140.8" width="8.0" height="5.2" rx="1.2" fill="#0b0bb0"/>
<text x="882.9" y="157.7" font-size="10" font-style="italic" fill="#444">0-2458K</text>
<line x1="881.4" y1="187.3" x2="1041.6" y2="187.3" stroke="#9a9ac8" stroke-width="1"/>
<path d="M897.50 187.30L897.50 187.30L897.93 187.15L898.36 186.89L898.79 186.59L899.21 186.27L899.64 185.95L900.07 185.64L900.50 185.35L900.93 185.09L901.36 184.86L901.79 184.66L902.21 184.50L902.64 184.39L903.07 184.32L903.50 184.30L904.11 184.32L904.71 184.39L905.32 184.50L905.93 184.66L906.54 184.86L907.14 185.09L907.75 185.35L908.36 185.64L908.96 185.95L909.57 186.27L910.18 186.59L910.79 186.89L911.39 187.15L912.00 187.30L912.00 187.30ZM907.00 187.30L907.00 187.30L907.68 187.13L908.36 186.85L909.04 186.52L909.71 186.17L910.39 185.82L911.07 185.48L911.75 185.16L912.43 184.87L913.11 184.61L913.79 184.40L914.46 184.22L915.14 184.10L915.82 184.03L916.50 184.00L916.89 184.03L917.29 184.10L917.68 184.22L918.07 184.40L918.46 184.61L918.86 184.87L919.25 185.16L919.64 185.48L920.04 185.82L920.43 186.17L920.82 186.52L921.21 186.85L921.61 187.13L922.00 187.30L922.00 187.30ZM959.60 187.30L959.60 187.30L960.25 185.39L960.90 184.87L961.55 184.50L962.20 184.13L962.85 182.60L963.50 180.89L964.15 179.09L964.80 177.22L965.45 175.32L966.10 173.37L966.75 171.39L967.40 169.39L968.05 167.35L968.70 165.30L969.23 165.72L969.76 166.56L970.29 167.70L970.81 169.07L971.34 170.64L971.87 172.37L972.40 174.23L972.93 176.18L973.46 178.21L973.99 180.26L974.51 182.30L975.04 184.25L975.57 186.03L976.10 187.30L976.10 187.30ZM1012.30 187.30L1012.30 187.30L1013.05 184.64L1013.80 183.91L1014.55 183.40L1015.30 182.89L1016.05 180.76L1016.80 178.38L1017.55 175.87L1018.30 173.29L1019.05 170.63L1019.80 167.93L1020.55 165.17L1021.30 162.38L1022.05 159.56L1022.80 156.70L1023.21 157.28L1023.61 158.46L1024.02 160.04L1024.43 161.95L1024.84 164.13L1025.24 166.53L1025.65 169.11L1026.06 171.84L1026.46 174.65L1026.87 177.51L1027.28 180.34L1027.69 183.06L1028.09 185.53L1028.50 187.30L1028.50 187.30Z" fill="#0b0bb0"/>
<text x="849.7" y="169.0" font-size="12.2" fill="#222" textLength="23.6" lengthAdjust="spacingAndGlyphs">E14F</text>
<text x="849.7" y="183.3" font-size="12.2" fill="#222" textLength="27.2" lengthAdjust="spacingAndGlyphs">Ctrl_1</text>
<line x1="881.4" y1="226.3" x2="1041.6" y2="226.3" stroke="#9a9ac8" stroke-width="1"/>
<line x1="883.4" y1="190.3" x2="892.4" y2="190.3" stroke="#c8c8c8" stroke-width="1"/>
<path d="M897.50 226.30L897.50 226.30L897.93 226.15L898.36 225.89L898.79 225.59L899.21 225.27L899.64 224.95L900.07 224.64L900.50 224.35L900.93 224.09L901.36 223.86L901.79 223.66L902.21 223.50L902.64 223.39L903.07 223.32L903.50 223.30L904.11 223.32L904.71 223.39L905.32 223.50L905.93 223.66L906.54 223.86L907.14 224.09L907.75 224.35L908.36 224.64L908.96 224.95L909.57 225.27L910.18 225.59L910.79 225.89L911.39 226.15L912.00 226.30L912.00 226.30ZM907.00 226.30L907.00 226.30L907.68 226.13L908.36 225.85L909.04 225.52L909.71 225.17L910.39 224.82L911.07 224.48L911.75 224.16L912.43 223.87L913.11 223.61L913.79 223.40L914.46 223.22L915.14 223.10L915.82 223.03L916.50 223.00L916.89 223.03L917.29 223.10L917.68 223.22L918.07 223.40L918.46 223.61L918.86 223.87L919.25 224.16L919.64 224.48L920.04 224.82L920.43 225.17L920.82 225.52L921.21 225.85L921.61 226.13L922.00 226.30L922.00 226.30ZM959.60 226.30L959.60 226.30L960.25 224.10L960.90 223.49L961.55 223.06L962.20 222.64L962.85 220.87L963.50 218.89L964.15 216.82L964.80 214.67L965.45 212.46L966.10 210.22L966.75 207.93L967.40 205.62L968.05 203.27L968.70 200.90L969.23 201.38L969.76 202.36L970.29 203.67L970.81 205.26L971.34 207.07L971.87 209.06L972.40 211.20L972.93 213.46L973.46 215.80L973.99 218.17L974.51 220.52L975.04 222.78L975.57 224.83L976.10 226.30L976.10 226.30ZM1012.30 226.30L1012.30 226.30L1013.05 223.18L1013.80 222.32L1014.55 221.71L1015.30 221.11L1016.05 218.61L1016.80 215.80L1017.55 212.86L1018.30 209.81L1019.05 206.69L1019.80 203.51L1020.55 200.27L1021.30 196.99L1022.05 193.66L1022.80 190.30L1023.21 190.98L1023.61 192.37L1024.02 194.23L1024.43 196.47L1024.84 199.04L1025.24 201.87L1025.65 204.91L1026.06 208.11L1026.46 211.42L1026.87 214.78L1027.28 218.11L1027.69 221.31L1028.09 224.21L1028.50 226.30L1028.50 226.30Z" fill="#0b0bb0"/>
<text x="849.7" y="208.8" font-size="12.2" fill="#222" textLength="23.6" lengthAdjust="spacingAndGlyphs">E14F</text>
<text x="849.7" y="223.1" font-size="12.2" fill="#222" textLength="27.2" lengthAdjust="spacingAndGlyphs">Ctrl_2</text>
<line x1="881.4" y1="264.3" x2="1041.6" y2="264.3" stroke="#e89a9a" stroke-width="1"/>
<line x1="883.4" y1="229.3" x2="892.4" y2="229.3" stroke="#c8c8c8" stroke-width="1"/>
<path d="M961.00 264.30L961.00 264.30L961.55 263.97L962.10 263.43L962.65 262.79L963.20 262.11L963.75 261.42L964.30 260.76L964.85 260.14L965.40 259.58L965.95 259.08L966.50 258.67L967.05 258.34L967.60 258.09L968.15 257.95L968.70 257.90L969.17 257.95L969.64 258.09L970.11 258.34L970.59 258.67L971.06 259.08L971.53 259.58L972.00 260.14L972.47 260.76L972.94 261.42L973.41 262.11L973.89 262.79L974.36 263.43L974.83 263.97L975.30 264.30L975.30 264.30ZM1012.30 264.30L1012.30 264.30L1013.05 263.00L1013.80 262.64L1014.55 262.39L1015.30 262.14L1016.05 261.09L1016.80 259.93L1017.55 258.70L1018.30 257.43L1019.05 256.13L1019.80 254.80L1020.55 253.45L1021.30 252.09L1022.05 250.70L1022.80 249.30L1023.17 249.59L1023.54 250.16L1023.91 250.94L1024.29 251.87L1024.66 252.94L1025.03 254.12L1025.40 255.39L1025.77 256.72L1026.14 258.10L1026.51 259.50L1026.89 260.89L1027.26 262.22L1027.63 263.43L1028.00 264.30L1028.00 264.30Z" fill="#ff2000"/>
<text x="833.7" y="247.8" font-size="12.2" fill="#222" textLength="23.6" lengthAdjust="spacingAndGlyphs">E14F</text>
<text x="833.7" y="262.1" font-size="12.2" fill="#222" textLength="43.2" lengthAdjust="spacingAndGlyphs">SATB2_1</text>
<line x1="881.4" y1="301.8" x2="1041.6" y2="301.8" stroke="#e89a9a" stroke-width="1"/>
<line x1="883.4" y1="267.3" x2="892.4" y2="267.3" stroke="#c8c8c8" stroke-width="1"/>
<path d="M961.00 301.80L961.00 301.80L961.55 301.60L962.10 301.25L962.65 300.85L963.20 300.43L963.75 300.00L964.30 299.59L964.85 299.20L965.40 298.85L965.95 298.54L966.50 298.28L967.05 298.07L967.60 297.92L968.15 297.83L968.70 297.80L969.17 297.83L969.64 297.92L970.11 298.07L970.59 298.28L971.06 298.54L971.53 298.85L972.00 299.20L972.47 299.59L972.94 300.00L973.41 300.43L973.89 300.85L974.36 301.25L974.83 301.60L975.30 301.80L975.30 301.80ZM1012.30 301.80L1012.30 301.80L1013.05 300.85L1013.80 300.58L1014.55 300.40L1015.30 300.21L1016.05 299.45L1016.80 298.59L1017.55 297.69L1018.30 296.76L1019.05 295.81L1019.80 294.84L1020.55 293.85L1021.30 292.84L1022.05 291.83L1022.80 290.80L1023.17 291.01L1023.54 291.43L1023.91 292.00L1024.29 292.69L1024.66 293.47L1025.03 294.33L1025.40 295.26L1025.77 296.24L1026.14 297.25L1026.51 298.28L1026.89 299.30L1027.26 300.28L1027.63 301.16L1028.00 301.80L1028.00 301.80Z" fill="#ff2000"/>
<text x="833.7" y="285.8" font-size="12.2" fill="#222" textLength="23.6" lengthAdjust="spacingAndGlyphs">E14F</text>
<text x="833.7" y="300.1" font-size="12.2" fill="#222" textLength="43.2" lengthAdjust="spacingAndGlyphs">SATB2_2</text>
<rect x="881.4" y="121.0" width="160.2" height="180.8" fill="none" stroke="#b4b4b4" stroke-width="1.2"/>
<line x1="881.4" y1="147.5" x2="1041.6" y2="147.5" stroke="#b8b8b8" stroke-width="1.4"/>
<text x="883.2" y="314.5" font-size="11" fill="#222" textLength="158.3" lengthAdjust="spacingAndGlyphs">Chr25: 3,261,500–3,271,500 (10kb)</text>
<rect x="1060.5" y="10.8" width="223.0" height="355.4" fill="none" stroke="#c4c4c4" stroke-width="1.4"/>
<text x="1071.0" y="38.6" font-size="32" font-weight="bold" fill="#000">a''</text>
<text x="1111.2" y="115.3" font-size="19.7" font-weight="bold" fill="#7030a0" textLength="158.6" lengthAdjust="spacingAndGlyphs">S100 sub-cluster</text>
<rect x="1112.6" y="121.0" width="160.1" height="18.2" fill="#fff"/>
<rect x="1111.1" y="139.2" width="162.1" height="8.3" fill="#f0f0f3"/>
<rect x="1112.6" y="147.5" width="160.1" height="154.3" fill="#f7f7f7"/>
<text x="1159.4" y="133.8" font-size="10.6" font-weight="bold" fill="#111" text-anchor="middle">S100A16</text>
<text x="1219.4" y="133.8" font-size="10.6" font-weight="bold" fill="#111" text-anchor="middle">S100A14</text>
<line x1="1123.5" y1="143.3" x2="1143.4" y2="143.3" stroke="#0b0bb0" stroke-width="1"/>
<rect x="1123.5" y="140.8" width="6.5" height="5.2" rx="1.2" fill="#0b0bb0"/>
<line x1="1130" y1="143.3" x2="1143.4" y2="143.3" stroke="#0b0bb0" stroke-width="1"/>
<rect x="1134" y="140.8" width="9.4" height="5.2" rx="1.2" fill="#0b0bb0"/>
<line x1="1152.5" y1="143.3" x2="1179.6" y2="143.3" stroke="#0b0bb0" stroke-width="1"/>
<rect x="1152.5" y="140.8" width="9.1" height="5.2" rx="1.2" fill="#0b0bb0"/>
<line x1="1176" y1="143.3" x2="1179.6" y2="143.3" stroke="#0b0bb0" stroke-width="1"/>
<rect x="1176" y="140.8" width="3.6" height="5.2" rx="1.2" fill="#0b0bb0"/>
<line x1="1208.9" y1="143.3" x2="1259.3" y2="143.3" stroke="#0b0bb0" stroke-width="1"/>
<rect x="1208.9" y="140.8" width="7.7" height="5.2" rx="1.2" fill="#0b0bb0"/>
<line x1="1208.9" y1="143.3" x2="1259.3" y2="143.3" stroke="#0b0bb0" stroke-width="1"/>
<rect x="1231" y="140.8" width="2.5" height="5.2" rx="1.2" fill="#0b0bb0"/>
<line x1="1208.9" y1="143.3" x2="1259.3" y2="143.3" stroke="#0b0bb0" stroke-width="1"/>
<rect x="1236.5" y="140.8" width="12.8" height="5.2" rx="1.2" fill="#0b0bb0"/>
<line x1="1208.9" y1="143.3" x2="1259.3" y2="143.3" stroke="#0b0bb0" stroke-width="1"/>
<rect x="1252" y="140.8" width="7.3" height="5.2" rx="1.2" fill="#0b0bb0"/>
<text x="1114.1" y="157.7" font-size="10" font-style="italic" fill="#444">0-217K</text>
<line x1="1112.6" y1="187.3" x2="1272.7" y2="187.3" stroke="#9a9ac8" stroke-width="1"/>
<path d="M1151.10 187.30L1151.10 187.30L1151.65 181.09L1152.20 179.38L1152.75 178.17L1153.30 177.21L1153.85 176.39L1154.40 175.52L1154.95 173.10L1155.50 170.40L1156.05 167.56L1156.60 164.63L1157.15 161.63L1157.70 158.57L1158.25 155.46L1158.80 152.30L1159.16 152.97L1159.53 154.31L1159.89 156.12L1160.26 158.30L1160.62 160.80L1160.99 163.54L1161.35 166.50L1161.71 169.61L1162.08 172.83L1162.44 176.10L1162.81 179.34L1163.17 182.45L1163.54 185.27L1163.90 187.30L1163.90 187.30ZM1174.8 187.3V181.30H1178.6V187.3ZM1208.00 187.30L1208.00 187.30L1208.47 181.80L1208.94 180.29L1209.41 179.22L1209.89 178.37L1210.36 177.64L1210.83 176.43L1211.30 173.98L1211.77 171.34L1212.24 168.58L1212.71 165.74L1213.19 162.83L1213.66 159.86L1214.13 156.85L1214.60 153.80L1214.94 154.44L1215.29 155.72L1215.63 157.45L1215.97 159.55L1216.31 161.93L1216.66 164.56L1217.00 167.39L1217.34 170.37L1217.69 173.45L1218.03 176.58L1218.37 179.68L1218.71 182.66L1219.06 185.36L1219.40 187.30L1219.40 187.30ZM1226.6 187.3V178.30H1230.4V187.3ZM1230.4 187.3V184.20H1233.4V187.3Z" fill="#0b0bb0"/>
<text x="1080.9" y="169.0" font-size="12.2" fill="#222" textLength="23.6" lengthAdjust="spacingAndGlyphs">E14F</text>
<text x="1080.9" y="183.3" font-size="12.2" fill="#222" textLength="27.2" lengthAdjust="spacingAndGlyphs">Ctrl_1</text>
<line x1="1112.6" y1="226.3" x2="1272.7" y2="226.3" stroke="#9a9ac8" stroke-width="1"/>
<line x1="1114.6" y1="190.3" x2="1123.6" y2="190.3" stroke="#c8c8c8" stroke-width="1"/>
<path d="M1151.10 226.30L1151.10 226.30L1151.65 220.44L1152.20 218.83L1152.75 217.70L1153.30 216.78L1153.85 216.01L1154.40 215.20L1154.95 212.91L1155.50 210.36L1156.05 207.69L1156.60 204.93L1157.15 202.10L1157.70 199.21L1158.25 196.28L1158.80 193.30L1159.16 193.93L1159.53 195.19L1159.89 196.90L1160.26 198.96L1160.62 201.31L1160.99 203.90L1161.35 206.69L1161.71 209.62L1162.08 212.66L1162.44 215.74L1162.81 218.79L1163.17 221.73L1163.54 224.39L1163.90 226.30L1163.90 226.30ZM1174.8 226.3V220.30H1178.6V226.3ZM1208.00 226.30L1208.00 226.30L1208.47 221.05L1208.94 219.60L1209.41 218.58L1209.89 217.77L1210.36 217.07L1210.83 215.91L1211.30 213.58L1211.77 211.05L1212.24 208.42L1212.71 205.70L1213.19 202.92L1213.66 200.09L1214.13 197.22L1214.60 194.30L1214.94 194.91L1215.29 196.14L1215.63 197.79L1215.97 199.79L1216.31 202.07L1216.66 204.58L1217.00 207.28L1217.34 210.13L1217.69 213.07L1218.03 216.06L1218.37 219.02L1218.71 221.87L1219.06 224.45L1219.40 226.30L1219.40 226.30ZM1226.6 226.3V217.30H1230.4V226.3ZM1230.4 226.3V223.20H1233.4V226.3Z" fill="#0b0bb0"/>
<text x="1080.9" y="208.8" font-size="12.2" fill="#222" textLength="23.6" lengthAdjust="spacingAndGlyphs">E14F</text>
<text x="1080.9" y="223.1" font-size="12.2" fill="#222" textLength="27.2" lengthAdjust="spacingAndGlyphs">Ctrl_2</text>
<line x1="1112.6" y1="264.3" x2="1272.7" y2="264.3" stroke="#e89a9a" stroke-width="1"/>
<line x1="1114.6" y1="229.3" x2="1123.6" y2="229.3" stroke="#c8c8c8" stroke-width="1"/>
<path d="M1151.10 264.30L1151.10 264.30L1151.65 258.26L1152.20 256.61L1152.75 255.43L1153.30 254.50L1153.85 253.70L1154.40 252.86L1154.95 250.50L1155.50 247.88L1156.05 245.13L1156.60 242.28L1157.15 239.36L1157.70 236.39L1158.25 233.37L1158.80 230.30L1159.16 230.95L1159.53 232.25L1159.89 234.01L1160.26 236.13L1160.62 238.55L1160.99 241.22L1161.35 244.09L1161.71 247.12L1162.08 250.25L1162.44 253.42L1162.81 256.57L1163.17 259.59L1163.54 262.33L1163.90 264.30L1163.90 264.30ZM1174.8 264.3V257.30H1178.6V264.3ZM1208.00 264.30L1208.00 264.30L1208.47 259.87L1208.94 258.65L1209.41 257.79L1209.89 257.10L1210.36 256.51L1210.83 255.54L1211.30 253.57L1211.77 251.44L1212.24 249.21L1212.71 246.92L1213.19 244.58L1213.66 242.19L1214.13 239.76L1214.60 237.30L1214.94 237.81L1215.29 238.85L1215.63 240.25L1215.97 241.93L1216.31 243.85L1216.66 245.97L1217.00 248.25L1217.34 250.66L1217.69 253.14L1218.03 255.66L1218.37 258.16L1218.71 260.56L1219.06 262.74L1219.40 264.30L1219.40 264.30ZM1226.6 264.3V256.30H1230.4V264.3ZM1230.4 264.3V261.50H1233.4V264.3Z" fill="#ff2000"/>
<text x="1064.9" y="247.8" font-size="12.2" fill="#222" textLength="23.6" lengthAdjust="spacingAndGlyphs">E14F</text>
<text x="1064.9" y="262.1" font-size="12.2" fill="#222" textLength="43.2" lengthAdjust="spacingAndGlyphs">SATB2_1</text>
<line x1="1112.6" y1="301.8" x2="1272.7" y2="301.8" stroke="#e89a9a" stroke-width="1"/>
<line x1="1114.6" y1="267.3" x2="1123.6" y2="267.3" stroke="#c8c8c8" stroke-width="1"/>
<path d="M1151.10 301.80L1151.10 301.80L1151.65 298.25L1152.20 297.27L1152.75 296.59L1153.30 296.03L1153.85 295.56L1154.40 295.07L1154.95 293.68L1155.50 292.14L1156.05 290.52L1156.60 288.85L1157.15 287.13L1157.70 285.38L1158.25 283.60L1158.80 281.80L1159.16 282.18L1159.53 282.95L1159.89 283.98L1160.26 285.23L1160.62 286.65L1160.99 288.23L1161.35 289.91L1161.71 291.69L1162.08 293.53L1162.44 295.40L1162.81 297.25L1163.17 299.03L1163.54 300.64L1163.90 301.80L1163.90 301.80ZM1174.8 301.8V297.80H1178.6V301.8ZM1208.00 301.80L1208.00 301.80L1208.47 298.52L1208.94 297.62L1209.41 296.98L1209.89 296.47L1210.36 296.03L1210.83 295.31L1211.30 293.85L1211.77 292.27L1212.24 290.62L1212.71 288.93L1213.19 287.19L1213.66 285.42L1214.13 283.62L1214.60 281.80L1214.94 282.18L1215.29 282.95L1215.63 283.98L1215.97 285.23L1216.31 286.65L1216.66 288.23L1217.00 289.91L1217.34 291.69L1217.69 293.53L1218.03 295.40L1218.37 297.25L1218.71 299.03L1219.06 300.64L1219.40 301.80L1219.40 301.80ZM1226.6 301.8V296.80H1230.4V301.8ZM1230.4 301.8V300.00H1233.4V301.8Z" fill="#ff2000"/>
<text x="1064.9" y="285.8" font-size="12.2" fill="#222" textLength="23.6" lengthAdjust="spacingAndGlyphs">E14F</text>
<text x="1064.9" y="300.1" font-size="12.2" fill="#222" textLength="43.2" lengthAdjust="spacingAndGlyphs">SATB2_2</text>
<rect x="1112.6" y="121.0" width="160.1" height="180.8" fill="none" stroke="#b4b4b4" stroke-width="1.2"/>
<line x1="1112.6" y1="147.5" x2="1272.7" y2="147.5" stroke="#b8b8b8" stroke-width="1.4"/>
<text x="1112.6" y="314.5" font-size="11" fill="#222" textLength="166.6" lengthAdjust="spacingAndGlyphs">Chr25: 3,312,000–3,325,500 (13.5kb)</text>
<rect x="826.5" y="375.3" width="223.5" height="295.9" fill="none" stroke="#c4c4c4" stroke-width="1.4"/>
<text x="831.5" y="398.8" font-size="32" font-weight="bold" fill="#000">b'</text>
<text x="863.0" y="443.8" font-size="19.7" font-weight="bold" fill="#00b050" textLength="180.2" lengthAdjust="spacingAndGlyphs">EDCRP sub-cluster</text>
<rect x="880.9" y="448.3" width="159.9" height="17.2" fill="#fff"/>
<rect x="879.4" y="465.5" width="161.9" height="9.5" fill="#f0f0f3"/>
<rect x="880.9" y="475.0" width="159.9" height="154.7" fill="#f7f7f7"/>
<text x="911.0" y="462.4" font-size="10.6" font-weight="bold" fill="#111" text-anchor="middle">EDCRP</text>
<text x="967.2" y="462.4" font-size="10.6" font-weight="bold" fill="#111" text-anchor="middle">EDMPN2</text>
<text x="1015.4" y="462.4" font-size="10.6" font-weight="bold" fill="#111" text-anchor="middle">EDMPN1</text>
<line x1="895.2" y1="470.2" x2="923.8" y2="470.2" stroke="#0b0bb0" stroke-width="1"/>
<rect x="902.3" y="467.6" width="17.9" height="5.2" rx="1.2" fill="#0b0bb0"/>
<line x1="960.3" y1="470.2" x2="969.2" y2="470.2" stroke="#0b0bb0" stroke-width="1"/>
<rect x="964" y="467.6" width="5.5" height="5.2" rx="1.2" fill="#0b0bb0"/>
<line x1="1009.7" y1="470.2" x2="1023.3" y2="470.2" stroke="#0b0bb0" stroke-width="1"/>
<rect x="1015" y="467.6" width="8.0" height="5.2" rx="1.2" fill="#0b0bb0"/>
<text x="882.4" y="485.2" font-size="10" font-style="italic" fill="#444">0-651K</text>
<line x1="880.9" y1="514.4" x2="1040.8" y2="514.4" stroke="#9a9ac8" stroke-width="1"/>
<path d="M900.00 514.40L900.00 514.40L900.43 514.19L900.86 513.83L901.29 513.41L901.71 512.96L902.14 512.51L902.57 512.08L903.00 511.67L903.43 511.30L903.86 510.98L904.29 510.70L904.71 510.49L905.14 510.33L905.57 510.23L906.00 510.20L906.57 510.23L907.14 510.33L907.71 510.49L908.29 510.70L908.86 510.98L909.43 511.30L910.00 511.67L910.57 512.08L911.14 512.51L911.71 512.96L912.29 513.41L912.86 513.83L913.43 514.19L914.00 514.40L914.00 514.40ZM908.00 514.40L908.00 514.40L908.71 514.15L909.43 513.74L910.14 513.26L910.86 512.75L911.57 512.24L912.29 511.75L913.00 511.28L913.71 510.86L914.43 510.49L915.14 510.18L915.86 509.93L916.57 509.75L917.29 509.64L918.00 509.60L918.54 509.64L919.07 509.75L919.61 509.93L920.14 510.18L920.68 510.49L921.21 510.86L921.75 511.28L922.29 511.75L922.82 512.24L923.36 512.75L923.89 513.26L924.43 513.74L924.96 514.15L925.50 514.40L925.50 514.40ZM960.30 514.40L960.30 514.40L960.94 512.23L961.57 511.63L962.21 511.21L962.84 510.79L963.48 509.06L964.11 507.11L964.75 505.07L965.39 502.95L966.02 500.78L966.66 498.57L967.29 496.32L967.93 494.04L968.56 491.73L969.20 489.40L969.71 489.88L970.21 490.83L970.72 492.13L971.23 493.69L971.74 495.47L972.24 497.43L972.75 499.54L973.26 501.77L973.76 504.07L974.27 506.40L974.78 508.71L975.29 510.94L975.79 512.95L976.30 514.40L976.30 514.40ZM1009.70 514.40L1009.70 514.40L1010.44 511.29L1011.17 510.44L1011.91 509.84L1012.64 509.24L1013.38 506.75L1014.11 503.96L1014.85 501.03L1015.59 498.00L1016.32 494.90L1017.06 491.73L1017.79 488.51L1018.53 485.25L1019.26 481.94L1020.00 478.60L1020.41 479.28L1020.81 480.65L1021.22 482.51L1021.63 484.74L1022.04 487.29L1022.44 490.10L1022.85 493.12L1023.26 496.31L1023.66 499.60L1024.07 502.94L1024.48 506.26L1024.89 509.44L1025.29 512.33L1025.70 514.40L1025.70 514.40Z" fill="#0b0bb0"/>
<text x="849.2" y="496.5" font-size="12.2" fill="#222" textLength="23.6" lengthAdjust="spacingAndGlyphs">E16F</text>
<text x="849.2" y="510.8" font-size="12.2" fill="#222" textLength="27.2" lengthAdjust="spacingAndGlyphs">Ctrl_1</text>
<line x1="880.9" y1="553.3" x2="1040.8" y2="553.3" stroke="#9a9ac8" stroke-width="1"/>
<line x1="882.9" y1="517.4" x2="891.9" y2="517.4" stroke="#c8c8c8" stroke-width="1"/>
<path d="M900.00 553.30L900.00 553.30L900.43 553.10L900.86 552.75L901.29 552.35L901.71 551.93L902.14 551.50L902.57 551.09L903.00 550.70L903.43 550.35L903.86 550.04L904.29 549.78L904.71 549.57L905.14 549.42L905.57 549.33L906.00 549.30L906.57 549.33L907.14 549.42L907.71 549.57L908.29 549.78L908.86 550.04L909.43 550.35L910.00 550.70L910.57 551.09L911.14 551.50L911.71 551.93L912.29 552.35L912.86 552.75L913.43 553.10L914.00 553.30L914.00 553.30ZM908.00 553.30L908.00 553.30L908.71 553.06L909.43 552.67L910.14 552.21L910.86 551.72L911.57 551.23L912.29 550.76L913.00 550.31L913.71 549.91L914.43 549.55L915.14 549.25L915.86 549.01L916.57 548.84L917.29 548.74L918.00 548.70L918.54 548.74L919.07 548.84L919.61 549.01L920.14 549.25L920.68 549.55L921.21 549.91L921.75 550.31L922.29 550.76L922.82 551.23L923.36 551.72L923.89 552.21L924.43 552.67L924.96 553.06L925.50 553.30L925.50 553.30ZM960.30 553.30L960.30 553.30L960.94 551.69L961.57 551.24L962.21 550.93L962.84 550.62L963.48 549.33L964.11 547.88L964.75 546.35L965.39 544.78L966.02 543.17L966.66 541.52L967.29 539.85L967.93 538.15L968.56 536.44L969.20 534.70L969.71 535.05L970.21 535.77L970.72 536.73L971.23 537.89L971.74 539.21L972.24 540.68L972.75 542.25L973.26 543.90L973.76 545.61L974.27 547.35L974.78 549.07L975.29 550.72L975.79 552.22L976.30 553.30L976.30 553.30ZM1009.70 553.30L1009.70 553.30L1010.44 550.96L1011.17 550.31L1011.91 549.86L1012.64 549.41L1013.38 547.53L1014.11 545.43L1014.85 543.22L1015.59 540.93L1016.32 538.59L1017.06 536.20L1017.79 533.78L1018.53 531.31L1019.26 528.82L1020.00 526.30L1020.41 526.81L1020.81 527.85L1021.22 529.25L1021.63 530.93L1022.04 532.85L1022.44 534.97L1022.85 537.25L1023.26 539.66L1023.66 542.14L1024.07 544.66L1024.48 547.16L1024.89 549.56L1025.29 551.74L1025.70 553.30L1025.70 553.30Z" fill="#0b0bb0"/>
<text x="849.2" y="535.9" font-size="12.2" fill="#222" textLength="23.6" lengthAdjust="spacingAndGlyphs">E16F</text>
<text x="849.2" y="550.2" font-size="12.2" fill="#222" textLength="27.2" lengthAdjust="spacingAndGlyphs">Ctrl_2</text>
<line x1="880.9" y1="592.4" x2="1040.8" y2="592.4" stroke="#e89a9a" stroke-width="1"/>
<line x1="882.9" y1="556.3" x2="891.9" y2="556.3" stroke="#c8c8c8" stroke-width="1"/>
<text x="833.2" y="574.8" font-size="12.2" fill="#222" textLength="23.6" lengthAdjust="spacingAndGlyphs">E16F</text>
<text x="833.2" y="589.1" font-size="12.2" fill="#222" textLength="43.2" lengthAdjust="spacingAndGlyphs">SATB2_1</text>
<line x1="880.9" y1="629.7" x2="1040.8" y2="629.7" stroke="#e89a9a" stroke-width="1"/>
<line x1="882.9" y1="595.4" x2="891.9" y2="595.4" stroke="#c8c8c8" stroke-width="1"/>
<text x="833.2" y="613.9" font-size="12.2" fill="#222" textLength="23.6" lengthAdjust="spacingAndGlyphs">E16F</text>
<text x="833.2" y="628.2" font-size="12.2" fill="#222" textLength="43.2" lengthAdjust="spacingAndGlyphs">SATB2_2</text>
<rect x="880.9" y="448.3" width="159.9" height="181.4" fill="none" stroke="#b4b4b4" stroke-width="1.2"/>
<line x1="880.9" y1="475.0" x2="1040.8" y2="475.0" stroke="#b8b8b8" stroke-width="1.4"/>
<text x="882.0" y="644.0" font-size="11" fill="#222" textLength="158.0" lengthAdjust="spacingAndGlyphs">Chr25: 3,261,500–3,271,500 (10kb)</text>
<rect x="1060.5" y="375.3" width="223.1" height="295.9" fill="none" stroke="#c4c4c4" stroke-width="1.4"/>
<text x="1069.8" y="398.8" font-size="32" font-weight="bold" fill="#000">b''</text>
<text x="1107.0" y="443.8" font-size="19.7" font-weight="bold" fill="#fb7a1e" textLength="166.4" lengthAdjust="spacingAndGlyphs">EDCH sub-cluster</text>
<rect x="1111.8" y="448.3" width="160.9" height="17.2" fill="#fff"/>
<rect x="1110.3" y="465.5" width="162.9" height="9.5" fill="#f0f0f3"/>
<rect x="1111.8" y="475.0" width="160.9" height="154.7" fill="#f7f7f7"/>
<text x="1132.2" y="462.4" font-size="10.6" font-weight="bold" fill="#111" text-anchor="middle">EDCH4</text>
<text x="1195.6" y="462.4" font-size="10.6" font-weight="bold" fill="#111" text-anchor="middle">EDCH3</text>
<text x="1250.5" y="462.4" font-size="10.6" font-weight="bold" fill="#111" text-anchor="middle">EDCH2</text>
<line x1="1123" y1="470.2" x2="1142.1" y2="470.2" stroke="#0b0bb0" stroke-width="1"/>
<rect x="1135.7" y="467.6" width="6.4" height="5.2" rx="1.2" fill="#0b0bb0"/>
<line x1="1186.7" y1="470.2" x2="1205.8" y2="470.2" stroke="#0b0bb0" stroke-width="1"/>
<rect x="1197.7" y="467.6" width="8.1" height="5.2" rx="1.2" fill="#0b0bb0"/>
<line x1="1241.2" y1="470.2" x2="1262.6" y2="470.2" stroke="#0b0bb0" stroke-width="1"/>
<rect x="1249.5" y="467.6" width="13.1" height="5.2" rx="1.2" fill="#0b0bb0"/>
<text x="1113.3" y="485.2" font-size="10" font-style="italic" fill="#444">0-635K</text>
<line x1="1111.8" y1="514.4" x2="1272.7" y2="514.4" stroke="#9a9ac8" stroke-width="1"/>
<path d="M1124.2 514.4V512.40H1130.9V514.4ZM1132.60 514.40L1132.60 514.40L1133.28 514.04L1133.96 513.44L1134.64 512.74L1135.31 512.00L1135.99 511.25L1136.67 510.53L1137.35 509.85L1138.03 509.24L1138.71 508.70L1139.39 508.24L1140.06 507.88L1140.74 507.61L1141.42 507.45L1142.10 507.40L1142.61 507.45L1143.13 507.61L1143.64 507.88L1144.16 508.24L1144.67 508.70L1145.19 509.24L1145.70 509.85L1146.21 510.53L1146.73 511.25L1147.24 512.00L1147.76 512.74L1148.27 513.44L1148.79 514.04L1149.30 514.40L1149.30 514.40ZM1187.50 514.40L1187.50 514.40L1188.78 514.25L1190.06 513.99L1191.34 513.69L1192.61 513.37L1193.89 513.05L1195.17 512.74L1196.45 512.45L1197.73 512.19L1199.01 511.96L1200.29 511.76L1201.56 511.60L1202.84 511.49L1204.12 511.42L1205.40 511.40L1205.91 511.42L1206.41 511.49L1206.92 511.60L1207.43 511.76L1207.94 511.96L1208.44 512.19L1208.95 512.45L1209.46 512.74L1209.96 513.05L1210.47 513.37L1210.98 513.69L1211.49 513.99L1211.99 514.25L1212.50 514.40L1212.50 514.40ZM1248.00 514.40L1248.00 514.40L1248.29 514.35L1248.57 514.26L1248.86 514.16L1249.14 514.06L1249.43 513.95L1249.71 513.85L1250.00 513.75L1250.29 513.66L1250.57 513.59L1250.86 513.52L1251.14 513.47L1251.43 513.43L1251.71 513.41L1252.00 513.40L1252.29 513.41L1252.57 513.43L1252.86 513.47L1253.14 513.52L1253.43 513.59L1253.71 513.66L1254.00 513.75L1254.29 513.85L1254.57 513.95L1254.86 514.06L1255.14 514.16L1255.43 514.26L1255.71 514.35L1256.00 514.40L1256.00 514.40Z" fill="#0b0bb0"/>
<text x="1080.1" y="496.5" font-size="12.2" fill="#222" textLength="23.6" lengthAdjust="spacingAndGlyphs">E16F</text>
<text x="1080.1" y="510.8" font-size="12.2" fill="#222" textLength="27.2" lengthAdjust="spacingAndGlyphs">Ctrl_1</text>
<line x1="1111.8" y1="553.3" x2="1272.7" y2="553.3" stroke="#9a9ac8" stroke-width="1"/>
<line x1="1113.8" y1="517.4" x2="1122.8" y2="517.4" stroke="#c8c8c8" stroke-width="1"/>
<path d="M1124.2 553.3V549.30H1130.9V553.3ZM1132.60 553.30L1132.60 553.30L1133.28 552.81L1133.96 551.99L1134.64 551.03L1135.31 550.01L1135.99 548.99L1136.67 547.99L1137.35 547.06L1138.03 546.22L1138.71 545.48L1139.39 544.85L1140.06 544.35L1140.74 543.99L1141.42 543.77L1142.10 543.70L1142.66 543.77L1143.23 543.99L1143.79 544.35L1144.36 544.85L1144.92 545.48L1145.49 546.22L1146.05 547.06L1146.61 547.99L1147.18 548.99L1147.74 550.01L1148.31 551.03L1148.87 551.99L1149.44 552.81L1150.00 553.30L1150.00 553.30ZM1187.50 553.30L1187.50 553.30L1188.81 552.99L1190.11 552.48L1191.42 551.88L1192.73 551.24L1194.04 550.60L1195.34 549.98L1196.65 549.40L1197.96 548.87L1199.26 548.41L1200.57 548.02L1201.88 547.71L1203.19 547.48L1204.49 547.35L1205.80 547.30L1206.31 547.35L1206.83 547.48L1207.34 547.71L1207.86 548.02L1208.37 548.41L1208.89 548.87L1209.40 549.40L1209.91 549.98L1210.43 550.60L1210.94 551.24L1211.46 551.88L1211.97 552.48L1212.49 552.99L1213.00 553.30L1213.00 553.30ZM1248.00 553.30L1248.00 553.30L1248.29 553.25L1248.57 553.16L1248.86 553.06L1249.14 552.96L1249.43 552.85L1249.71 552.75L1250.00 552.65L1250.29 552.56L1250.57 552.49L1250.86 552.42L1251.14 552.37L1251.43 552.33L1251.71 552.31L1252.00 552.30L1252.29 552.31L1252.57 552.33L1252.86 552.37L1253.14 552.42L1253.43 552.49L1253.71 552.56L1254.00 552.65L1254.29 552.75L1254.57 552.85L1254.86 552.96L1255.14 553.06L1255.43 553.16L1255.71 553.25L1256.00 553.30L1256.00 553.30Z" fill="#0b0bb0"/>
<text x="1080.1" y="535.9" font-size="12.2" fill="#222" textLength="23.6" lengthAdjust="spacingAndGlyphs">E16F</text>
<text x="1080.1" y="550.2" font-size="12.2" fill="#222" textLength="27.2" lengthAdjust="spacingAndGlyphs">Ctrl_2</text>
<line x1="1111.8" y1="592.4" x2="1272.7" y2="592.4" stroke="#e89a9a" stroke-width="1"/>
<line x1="1113.8" y1="556.3" x2="1122.8" y2="556.3" stroke="#c8c8c8" stroke-width="1"/>
<path d="M1124.2 592.4V584.40H1130.9V592.4ZM1131.80 592.40L1131.80 592.40L1132.49 590.40L1133.17 589.86L1133.86 589.47L1134.54 589.08L1135.23 587.48L1135.91 585.69L1136.60 583.81L1137.29 581.87L1137.97 579.87L1138.66 577.84L1139.34 575.77L1140.03 573.67L1140.71 571.55L1141.40 569.40L1142.05 569.84L1142.70 570.72L1143.35 571.91L1144.00 573.34L1144.65 574.98L1145.30 576.79L1145.95 578.73L1146.60 580.78L1147.25 582.89L1147.90 585.04L1148.55 587.17L1149.20 589.21L1149.85 591.07L1150.50 592.40L1150.50 592.40ZM1187.5 592.4V586.40H1194.6V592.4ZM1194.60 592.40L1194.60 592.40L1195.29 590.14L1195.97 589.52L1196.66 589.09L1197.34 588.65L1198.03 586.84L1198.71 584.82L1199.40 582.69L1200.09 580.49L1200.77 578.24L1201.46 575.94L1202.14 573.60L1202.83 571.23L1203.51 568.83L1204.20 566.40L1204.88 566.89L1205.56 567.89L1206.24 569.24L1206.91 570.86L1207.59 572.71L1208.27 574.75L1208.95 576.95L1209.63 579.26L1210.31 581.65L1210.99 584.08L1211.66 586.49L1212.34 588.80L1213.02 590.89L1213.70 592.40L1213.70 592.40ZM1242.40 592.40L1242.40 592.40L1243.42 591.79L1244.44 590.76L1245.46 589.56L1246.49 588.29L1247.51 587.01L1248.53 585.77L1249.55 584.61L1250.57 583.55L1251.59 582.62L1252.61 581.84L1253.64 581.22L1254.66 580.77L1255.68 580.49L1256.70 580.40L1257.29 580.49L1257.89 580.77L1258.48 581.22L1259.07 581.84L1259.66 582.62L1260.26 583.55L1260.85 584.61L1261.44 585.77L1262.04 587.01L1262.63 588.29L1263.22 589.56L1263.81 590.76L1264.41 591.79L1265.00 592.40L1265.00 592.40Z" fill="#ff2000"/>
<text x="1064.1" y="574.8" font-size="12.2" fill="#222" textLength="23.6" lengthAdjust="spacingAndGlyphs">E16F</text>
<text x="1064.1" y="589.1" font-size="12.2" fill="#222" textLength="43.2" lengthAdjust="spacingAndGlyphs">SATB2_1</text>
<line x1="1111.8" y1="629.7" x2="1272.7" y2="629.7" stroke="#e89a9a" stroke-width="1"/>
<line x1="1113.8" y1="595.4" x2="1122.8" y2="595.4" stroke="#c8c8c8" stroke-width="1"/>
<path d="M1124.2 629.7V619.70H1130.9V629.7ZM1131.80 629.70L1131.80 629.70L1132.49 626.75L1133.17 625.94L1133.86 625.37L1134.54 624.80L1135.23 622.43L1135.91 619.79L1136.60 617.00L1137.29 614.13L1137.97 611.18L1138.66 608.17L1139.34 605.12L1140.03 602.01L1140.71 598.87L1141.40 595.70L1142.05 596.35L1142.70 597.65L1143.35 599.41L1144.00 601.53L1144.65 603.95L1145.30 606.62L1145.95 609.49L1146.60 612.52L1147.25 615.65L1147.90 618.82L1148.55 621.97L1149.20 624.99L1149.85 627.73L1150.50 629.70L1150.50 629.70ZM1187.5 629.7V624.70H1194.6V629.7ZM1194.60 629.70L1194.60 629.70L1195.23 627.79L1195.86 627.27L1196.49 626.90L1197.11 626.53L1197.74 625.00L1198.37 623.29L1199.00 621.49L1199.63 619.62L1200.26 617.72L1200.89 615.77L1201.51 613.79L1202.14 611.79L1202.77 609.75L1203.40 607.70L1204.05 608.12L1204.70 608.96L1205.35 610.10L1206.00 611.47L1206.65 613.04L1207.30 614.77L1207.95 616.63L1208.60 618.58L1209.25 620.61L1209.90 622.66L1210.55 624.70L1211.20 626.65L1211.85 628.43L1212.50 629.70L1212.50 629.70ZM1245.00 629.70L1245.00 629.70L1245.75 629.39L1246.50 628.88L1247.25 628.28L1248.00 627.64L1248.75 627.00L1249.50 626.38L1250.25 625.80L1251.00 625.27L1251.75 624.81L1252.50 624.42L1253.25 624.11L1254.00 623.88L1254.75 623.75L1255.50 623.70L1256.11 623.75L1256.71 623.88L1257.32 624.11L1257.93 624.42L1258.54 624.81L1259.14 625.27L1259.75 625.80L1260.36 626.38L1260.96 627.00L1261.57 627.64L1262.18 628.28L1262.79 628.88L1263.39 629.39L1264.00 629.70L1264.00 629.70Z" fill="#ff2000"/>
<text x="1064.1" y="613.9" font-size="12.2" fill="#222" textLength="23.6" lengthAdjust="spacingAndGlyphs">E16F</text>
<text x="1064.1" y="628.2" font-size="12.2" fill="#222" textLength="43.2" lengthAdjust="spacingAndGlyphs">SATB2_2</text>
<rect x="1111.8" y="448.3" width="160.9" height="181.4" fill="none" stroke="#b4b4b4" stroke-width="1.2"/>
<line x1="1111.8" y1="475.0" x2="1272.7" y2="475.0" stroke="#b8b8b8" stroke-width="1.4"/>
<text x="1115.9" y="644.0" font-size="11" fill="#222" textLength="152.7" lengthAdjust="spacingAndGlyphs">Chr25: 3,251,500–3,258,500 (7kb)</text>
<rect x="826.5" y="679.0" width="223.0" height="295.9" fill="none" stroke="#c4c4c4" stroke-width="1.4"/>
<text x="829.0" y="705.3" font-size="32" font-weight="bold" fill="#000">c’</text>
<text x="860.1" y="738.5" font-size="19.7" font-weight="bold" fill="#00b050" textLength="179.9" lengthAdjust="spacingAndGlyphs">EDCRP sub-cluster</text>
<rect x="880.9" y="742.5" width="160.6" height="17.9" fill="#fff"/>
<rect x="879.4" y="760.4" width="162.6" height="8.2" fill="#f0f0f3"/>
<rect x="880.9" y="768.6" width="160.6" height="154.6" fill="#f7f7f7"/>
<text x="907.7" y="757.2" font-size="10.6" font-weight="bold" fill="#111" text-anchor="middle">EDCRP</text>
<text x="963.8" y="757.2" font-size="10.6" font-weight="bold" fill="#111" text-anchor="middle">EDMPN2</text>
<text x="1012.0" y="757.2" font-size="10.6" font-weight="bold" fill="#111" text-anchor="middle">EDMPN1</text>
<line x1="890.4" y1="764.5" x2="921.4" y2="764.5" stroke="#0b0bb0" stroke-width="1"/>
<rect x="898.8" y="761.9" width="19.1" height="5.2" rx="1.2" fill="#0b0bb0"/>
<line x1="962" y1="764.5" x2="971.6" y2="764.5" stroke="#0b0bb0" stroke-width="1"/>
<rect x="966.5" y="761.9" width="5.5" height="5.2" rx="1.2" fill="#0b0bb0"/>
<line x1="1016.2" y1="764.5" x2="1032" y2="764.5" stroke="#0b0bb0" stroke-width="1"/>
<rect x="1023" y="761.9" width="9.0" height="5.2" rx="1.2" fill="#0b0bb0"/>
<text x="882.4" y="778.8" font-size="10" font-style="italic" fill="#444">0-271K</text>
<line x1="880.9" y1="808.7" x2="1041.5" y2="808.7" stroke="#9a9ac8" stroke-width="1"/>
<path d="M965.00 808.70L965.00 808.70L965.36 808.64L965.71 808.54L966.07 808.42L966.43 808.29L966.79 808.16L967.14 808.04L967.50 807.92L967.86 807.81L968.21 807.72L968.57 807.64L968.93 807.58L969.29 807.54L969.64 807.51L970.00 807.50L970.36 807.51L970.71 807.54L971.07 807.58L971.43 807.64L971.79 807.72L972.14 807.81L972.50 807.92L972.86 808.04L973.21 808.16L973.57 808.29L973.93 808.42L974.29 808.54L974.64 808.64L975.00 808.70L975.00 808.70ZM1015.70 808.70L1015.70 808.70L1016.46 808.44L1017.23 808.02L1017.99 807.52L1018.76 806.99L1019.52 806.45L1020.29 805.94L1021.05 805.45L1021.81 805.01L1022.58 804.63L1023.34 804.30L1024.11 804.04L1024.87 803.85L1025.64 803.74L1026.40 803.70L1026.83 803.74L1027.26 803.85L1027.69 804.04L1028.11 804.30L1028.54 804.63L1028.97 805.01L1029.40 805.45L1029.83 805.94L1030.26 806.45L1030.69 806.99L1031.11 807.52L1031.54 808.02L1031.97 808.44L1032.40 808.70L1032.40 808.70Z" fill="#0b0bb0"/>
<text x="849.2" y="790.1" font-size="12.2" fill="#222" textLength="23.6" lengthAdjust="spacingAndGlyphs">E16S</text>
<text x="849.2" y="804.4" font-size="12.2" fill="#222" textLength="27.2" lengthAdjust="spacingAndGlyphs">Ctrl_1</text>
<line x1="880.9" y1="847.3" x2="1041.5" y2="847.3" stroke="#9a9ac8" stroke-width="1"/>
<line x1="882.9" y1="811.7" x2="891.9" y2="811.7" stroke="#c8c8c8" stroke-width="1"/>
<path d="M1017.00 847.30L1017.00 847.30L1017.64 847.17L1018.29 846.96L1018.93 846.71L1019.57 846.44L1020.21 846.18L1020.86 845.92L1021.50 845.68L1022.14 845.46L1022.79 845.26L1023.43 845.10L1024.07 844.97L1024.71 844.88L1025.36 844.82L1026.00 844.80L1026.43 844.82L1026.86 844.88L1027.29 844.97L1027.71 845.10L1028.14 845.26L1028.57 845.46L1029.00 845.68L1029.43 845.92L1029.86 846.18L1030.29 846.44L1030.71 846.71L1031.14 846.96L1031.57 847.17L1032.00 847.30L1032.00 847.30Z" fill="#0b0bb0"/>
<text x="849.2" y="830.2" font-size="12.2" fill="#222" textLength="23.6" lengthAdjust="spacingAndGlyphs">E16S</text>
<text x="849.2" y="844.5" font-size="12.2" fill="#222" textLength="27.2" lengthAdjust="spacingAndGlyphs">Ctrl_2</text>
<line x1="880.9" y1="885.7" x2="1041.5" y2="885.7" stroke="#e89a9a" stroke-width="1"/>
<line x1="882.9" y1="850.3" x2="891.9" y2="850.3" stroke="#c8c8c8" stroke-width="1"/>
<path d="M898.80 885.70L898.80 885.70L899.60 885.65L900.40 885.56L901.20 885.46L902.00 885.36L902.80 885.25L903.60 885.15L904.40 885.05L905.20 884.96L906.00 884.89L906.80 884.82L907.60 884.77L908.40 884.73L909.20 884.71L910.00 884.70L910.73 884.71L911.46 884.73L912.19 884.77L912.91 884.82L913.64 884.89L914.37 884.96L915.10 885.05L915.83 885.15L916.56 885.25L917.29 885.36L918.01 885.46L918.74 885.56L919.47 885.65L920.20 885.70L920.20 885.70ZM962.00 885.70L962.00 885.70L962.63 885.29L963.26 884.61L963.89 883.81L964.51 882.96L965.14 882.10L965.77 881.28L966.40 880.50L967.03 879.80L967.66 879.18L968.29 878.66L968.91 878.24L969.54 877.94L970.17 877.76L970.80 877.70L971.28 877.76L971.76 877.94L972.24 878.24L972.71 878.66L973.19 879.18L973.67 879.80L974.15 880.50L974.63 881.28L975.11 882.10L975.59 882.96L976.06 883.81L976.54 884.61L977.02 885.29L977.50 885.70L977.50 885.70ZM1015.70 885.70L1015.70 885.70L1016.46 882.70L1017.23 881.87L1017.99 881.29L1018.76 880.71L1019.52 878.31L1020.29 875.61L1021.05 872.78L1021.81 869.85L1022.58 866.85L1023.34 863.79L1024.11 860.68L1024.87 857.53L1025.64 854.33L1026.40 851.10L1026.91 851.76L1027.43 853.09L1027.94 854.88L1028.46 857.03L1028.97 859.50L1029.49 862.22L1030.00 865.14L1030.51 868.22L1031.03 871.40L1031.54 874.63L1032.06 877.83L1032.57 880.91L1033.09 883.69L1033.60 885.70L1033.60 885.70Z" fill="#ff2000"/>
<text x="833.2" y="868.8" font-size="12.2" fill="#222" textLength="23.6" lengthAdjust="spacingAndGlyphs">E16S</text>
<text x="833.2" y="883.1" font-size="12.2" fill="#222" textLength="43.2" lengthAdjust="spacingAndGlyphs">SATB2_1</text>
<line x1="880.9" y1="923.2" x2="1041.5" y2="923.2" stroke="#e89a9a" stroke-width="1"/>
<line x1="882.9" y1="888.7" x2="891.9" y2="888.7" stroke="#c8c8c8" stroke-width="1"/>
<path d="M965.00 923.20L965.00 923.20L965.36 923.10L965.71 922.93L966.07 922.73L966.43 922.51L966.79 922.30L967.14 922.09L967.50 921.90L967.86 921.72L968.21 921.57L968.57 921.44L968.93 921.34L969.29 921.26L969.64 921.22L970.00 921.20L970.43 921.22L970.86 921.26L971.29 921.34L971.71 921.44L972.14 921.57L972.57 921.72L973.00 921.90L973.43 922.09L973.86 922.30L974.29 922.51L974.71 922.73L975.14 922.93L975.57 923.10L976.00 923.20L976.00 923.20ZM1015.70 923.20L1015.70 923.20L1016.46 921.33L1017.23 920.82L1017.99 920.46L1018.76 920.10L1019.52 918.61L1020.29 916.93L1021.05 915.17L1021.81 913.35L1022.58 911.49L1023.34 909.59L1024.11 907.65L1024.87 905.69L1025.64 903.71L1026.40 901.70L1026.91 902.11L1027.43 902.93L1027.94 904.05L1028.46 905.39L1028.97 906.92L1029.49 908.61L1030.00 910.42L1030.51 912.34L1031.03 914.31L1031.54 916.32L1032.06 918.31L1032.57 920.22L1033.09 921.95L1033.60 923.20L1033.60 923.20Z" fill="#ff2000"/>
<text x="833.2" y="907.2" font-size="12.2" fill="#222" textLength="23.6" lengthAdjust="spacingAndGlyphs">E16S</text>
<text x="833.2" y="921.5" font-size="12.2" fill="#222" textLength="43.2" lengthAdjust="spacingAndGlyphs">SATB2_2</text>
<rect x="880.9" y="742.5" width="160.6" height="180.7" fill="none" stroke="#b4b4b4" stroke-width="1.2"/>
<line x1="880.9" y1="768.6" x2="1041.5" y2="768.6" stroke="#b8b8b8" stroke-width="1.4"/>
<text x="882.5" y="938.6" font-size="11" fill="#222" textLength="157.5" lengthAdjust="spacingAndGlyphs">Chr25: 3,261,500–3,271,500 (10kb)</text>
<rect x="1060.5" y="679.0" width="222.9" height="295.9" fill="none" stroke="#c4c4c4" stroke-width="1.4"/>
<text x="1065.7" y="705.3" font-size="32" font-weight="bold" fill="#000">c’’</text>
<text x="1101.5" y="738.5" font-size="19.7" font-weight="bold" fill="#0070c0" textLength="170.2" lengthAdjust="spacingAndGlyphs">EDQM sub-cluster</text>
<rect x="1111.8" y="742.5" width="159.9" height="17.9" fill="#fff"/>
<rect x="1110.3" y="760.4" width="161.9" height="8.2" fill="#f0f0f3"/>
<rect x="1111.8" y="768.6" width="159.9" height="154.6" fill="#f7f7f7"/>
<text x="1135.2" y="757.2" font-size="10.6" font-weight="bold" fill="#111" text-anchor="middle">EDQM3</text>
<text x="1196.2" y="757.2" font-size="10.6" font-weight="bold" fill="#111" text-anchor="middle">EDQM2</text>
<text x="1251.9" y="757.2" font-size="10.6" font-weight="bold" fill="#111" text-anchor="middle">EDQM1</text>
<line x1="1123" y1="764.5" x2="1139.7" y2="764.5" stroke="#0b0bb0" stroke-width="1"/>
<rect x="1132.6" y="761.9" width="7.1" height="5.2" rx="1.2" fill="#0b0bb0"/>
<line x1="1185" y1="764.5" x2="1203" y2="764.5" stroke="#0b0bb0" stroke-width="1"/>
<rect x="1194.6" y="761.9" width="8.4" height="5.2" rx="1.2" fill="#0b0bb0"/>
<line x1="1250.2" y1="764.5" x2="1269.3" y2="764.5" stroke="#0b0bb0" stroke-width="1"/>
<rect x="1257.9" y="761.9" width="11.4" height="5.2" rx="1.2" fill="#0b0bb0"/>
<text x="1113.3" y="778.8" font-size="10" font-style="italic" fill="#444">0-141K</text>
<line x1="1111.8" y1="808.7" x2="1271.7" y2="808.7" stroke="#9a9ac8" stroke-width="1"/>
<path d="M1123.00 808.70L1123.00 808.70L1124.02 808.44L1125.04 808.02L1126.06 807.52L1127.09 806.99L1128.11 806.45L1129.13 805.94L1130.15 805.45L1131.17 805.01L1132.19 804.63L1133.21 804.30L1134.24 804.04L1135.26 803.85L1136.28 803.74L1137.30 803.70L1137.81 803.74L1138.33 803.85L1138.84 804.04L1139.36 804.30L1139.87 804.63L1140.39 805.01L1140.90 805.45L1141.41 805.94L1141.93 806.45L1142.44 806.99L1142.96 807.52L1143.47 808.02L1143.99 808.44L1144.50 808.70L1144.50 808.70ZM1190.00 808.70L1190.00 808.70L1190.57 808.60L1191.14 808.43L1191.71 808.23L1192.29 808.01L1192.86 807.80L1193.43 807.59L1194.00 807.40L1194.57 807.22L1195.14 807.07L1195.71 806.94L1196.29 806.84L1196.86 806.76L1197.43 806.72L1198.00 806.70L1198.57 806.72L1199.14 806.76L1199.71 806.84L1200.29 806.94L1200.86 807.07L1201.43 807.22L1202.00 807.40L1202.57 807.59L1203.14 807.80L1203.71 808.01L1204.29 808.23L1204.86 808.43L1205.43 808.60L1206.00 808.70L1206.00 808.70ZM1254.00 808.70L1254.00 808.70L1254.57 808.60L1255.14 808.43L1255.71 808.23L1256.29 808.01L1256.86 807.80L1257.43 807.59L1258.00 807.40L1258.57 807.22L1259.14 807.07L1259.71 806.94L1260.29 806.84L1260.86 806.76L1261.43 806.72L1262.00 806.70L1262.57 806.72L1263.14 806.76L1263.71 806.84L1264.29 806.94L1264.86 807.07L1265.43 807.22L1266.00 807.40L1266.57 807.59L1267.14 807.80L1267.71 808.01L1268.29 808.23L1268.86 808.43L1269.43 808.60L1270.00 808.70L1270.00 808.70Z" fill="#0b0bb0"/>
<text x="1080.1" y="790.1" font-size="12.2" fill="#222" textLength="23.6" lengthAdjust="spacingAndGlyphs">E16S</text>
<text x="1080.1" y="804.4" font-size="12.2" fill="#222" textLength="27.2" lengthAdjust="spacingAndGlyphs">Ctrl_1</text>
<line x1="1111.8" y1="847.3" x2="1271.7" y2="847.3" stroke="#9a9ac8" stroke-width="1"/>
<line x1="1113.8" y1="811.7" x2="1122.8" y2="811.7" stroke="#c8c8c8" stroke-width="1"/>
<path d="M1123.00 847.30L1123.00 847.30L1124.02 846.08L1125.04 845.75L1126.06 845.52L1127.09 845.28L1128.11 844.31L1129.13 843.22L1130.15 842.07L1131.17 840.89L1132.19 839.67L1133.21 838.44L1134.24 837.18L1135.26 835.90L1136.28 834.61L1137.30 833.30L1137.81 833.57L1138.33 834.10L1138.84 834.83L1139.36 835.70L1139.87 836.70L1140.39 837.80L1140.90 838.98L1141.41 840.23L1141.93 841.51L1142.44 842.82L1142.96 844.12L1143.47 845.36L1143.99 846.49L1144.50 847.30L1144.50 847.30ZM1192.00 847.30L1192.00 847.30L1192.43 847.22L1192.86 847.10L1193.29 846.94L1193.71 846.79L1194.14 846.63L1194.57 846.47L1195.00 846.33L1195.43 846.19L1195.86 846.08L1196.29 845.98L1196.71 845.90L1197.14 845.85L1197.57 845.81L1198.00 845.80L1198.43 845.81L1198.86 845.85L1199.29 845.90L1199.71 845.98L1200.14 846.08L1200.57 846.19L1201.00 846.33L1201.43 846.47L1201.86 846.63L1202.29 846.79L1202.71 846.94L1203.14 847.10L1203.57 847.22L1204.00 847.30L1204.00 847.30ZM1256.00 847.30L1256.00 847.30L1256.43 847.22L1256.86 847.10L1257.29 846.94L1257.71 846.79L1258.14 846.63L1258.57 846.47L1259.00 846.33L1259.43 846.19L1259.86 846.08L1260.29 845.98L1260.71 845.90L1261.14 845.85L1261.57 845.81L1262.00 845.80L1262.43 845.81L1262.86 845.85L1263.29 845.90L1263.71 845.98L1264.14 846.08L1264.57 846.19L1265.00 846.33L1265.43 846.47L1265.86 846.63L1266.29 846.79L1266.71 846.94L1267.14 847.10L1267.57 847.22L1268.00 847.30L1268.00 847.30Z" fill="#0b0bb0"/>
<text x="1080.1" y="830.2" font-size="12.2" fill="#222" textLength="23.6" lengthAdjust="spacingAndGlyphs">E16S</text>
<text x="1080.1" y="844.5" font-size="12.2" fill="#222" textLength="27.2" lengthAdjust="spacingAndGlyphs">Ctrl_2</text>
<line x1="1111.8" y1="885.7" x2="1271.7" y2="885.7" stroke="#e89a9a" stroke-width="1"/>
<line x1="1113.8" y1="850.3" x2="1122.8" y2="850.3" stroke="#c8c8c8" stroke-width="1"/>
<path d="M1123.00 885.70L1123.00 885.70L1123.99 882.66L1124.99 881.83L1125.98 881.24L1126.97 880.65L1127.96 878.22L1128.96 875.50L1129.95 872.63L1130.94 869.67L1131.94 866.64L1132.93 863.54L1133.92 860.39L1134.91 857.20L1135.91 853.97L1136.90 850.70L1137.49 851.37L1138.09 852.71L1138.68 854.52L1139.27 856.70L1139.86 859.20L1140.46 861.94L1141.05 864.90L1141.64 868.01L1142.24 871.23L1142.83 874.50L1143.42 877.74L1144.01 880.85L1144.61 883.67L1145.20 885.70L1145.20 885.70ZM1185.00 885.70L1185.00 885.70L1185.94 885.34L1186.89 884.74L1187.83 884.04L1188.77 883.30L1189.71 882.55L1190.66 881.83L1191.60 881.15L1192.54 880.54L1193.49 880.00L1194.43 879.54L1195.37 879.18L1196.31 878.91L1197.26 878.75L1198.20 878.70L1198.80 878.75L1199.40 878.91L1200.00 879.18L1200.60 879.54L1201.20 880.00L1201.80 880.54L1202.40 881.15L1203.00 881.83L1203.60 882.55L1204.20 883.30L1204.80 884.04L1205.40 884.74L1206.00 885.34L1206.60 885.70L1206.60 885.70ZM1251.90 885.70L1251.90 885.70L1252.66 885.39L1253.43 884.88L1254.19 884.28L1254.96 883.64L1255.72 883.00L1256.49 882.38L1257.25 881.80L1258.01 881.27L1258.78 880.81L1259.54 880.42L1260.31 880.11L1261.07 879.88L1261.84 879.75L1262.60 879.70L1263.20 879.75L1263.80 879.88L1264.40 880.11L1265.00 880.42L1265.60 880.81L1266.20 881.27L1266.80 881.80L1267.40 882.38L1268.00 883.00L1268.60 883.64L1269.20 884.28L1269.80 884.88L1270.40 885.39L1271.00 885.70L1271.00 885.70Z" fill="#ff2000"/>
<text x="1064.1" y="868.8" font-size="12.2" fill="#222" textLength="23.6" lengthAdjust="spacingAndGlyphs">E16S</text>
<text x="1064.1" y="883.1" font-size="12.2" fill="#222" textLength="43.2" lengthAdjust="spacingAndGlyphs">SATB2_1</text>
<line x1="1111.8" y1="923.2" x2="1271.7" y2="923.2" stroke="#e89a9a" stroke-width="1"/>
<line x1="1113.8" y1="888.7" x2="1122.8" y2="888.7" stroke="#c8c8c8" stroke-width="1"/>
<path d="M1123.00 923.20L1123.00 923.20L1124.00 920.77L1125.00 920.10L1126.00 919.63L1127.00 919.16L1128.00 917.22L1129.00 915.04L1130.00 912.74L1131.00 910.38L1132.00 907.95L1133.00 905.47L1134.00 902.95L1135.00 900.40L1136.00 897.81L1137.00 895.20L1137.54 895.73L1138.07 896.81L1138.61 898.25L1139.14 900.00L1139.68 902.00L1140.21 904.20L1140.75 906.56L1141.29 909.05L1141.82 911.63L1142.36 914.24L1142.89 916.83L1143.43 919.32L1143.96 921.58L1144.50 923.20L1144.50 923.20ZM1192.00 923.20L1192.00 923.20L1192.43 923.10L1192.86 922.93L1193.29 922.73L1193.71 922.51L1194.14 922.30L1194.57 922.09L1195.00 921.90L1195.43 921.72L1195.86 921.57L1196.29 921.44L1196.71 921.34L1197.14 921.26L1197.57 921.22L1198.00 921.20L1198.43 921.22L1198.86 921.26L1199.29 921.34L1199.71 921.44L1200.14 921.57L1200.57 921.72L1201.00 921.90L1201.43 922.09L1201.86 922.30L1202.29 922.51L1202.71 922.73L1203.14 922.93L1203.57 923.10L1204.00 923.20L1204.00 923.20ZM1256.00 923.20L1256.00 923.20L1256.43 923.10L1256.86 922.93L1257.29 922.73L1257.71 922.51L1258.14 922.30L1258.57 922.09L1259.00 921.90L1259.43 921.72L1259.86 921.57L1260.29 921.44L1260.71 921.34L1261.14 921.26L1261.57 921.22L1262.00 921.20L1262.43 921.22L1262.86 921.26L1263.29 921.34L1263.71 921.44L1264.14 921.57L1264.57 921.72L1265.00 921.90L1265.43 922.09L1265.86 922.30L1266.29 922.51L1266.71 922.73L1267.14 922.93L1267.57 923.10L1268.00 923.20L1268.00 923.20Z" fill="#ff2000"/>
<text x="1064.1" y="907.2" font-size="12.2" fill="#222" textLength="23.6" lengthAdjust="spacingAndGlyphs">E16S</text>
<text x="1064.1" y="921.5" font-size="12.2" fill="#222" textLength="43.2" lengthAdjust="spacingAndGlyphs">SATB2_2</text>
<rect x="1111.8" y="742.5" width="159.9" height="180.7" fill="none" stroke="#b4b4b4" stroke-width="1.2"/>
<line x1="1111.8" y1="768.6" x2="1271.7" y2="768.6" stroke="#b8b8b8" stroke-width="1.4"/>
<text x="1115.9" y="938.6" font-size="11" fill="#222" textLength="152.7" lengthAdjust="spacingAndGlyphs">Chr25: 3,280,000–3,288,000 (8kb)</text>
<rect x="824.9" y="983.8" width="223.6" height="298.6" fill="none" stroke="#c4c4c4" stroke-width="1.4"/>
<text x="829.0" y="1012.0" font-size="32" font-weight="bold" fill="#000">d’</text>
<text x="865.3" y="1059.0" font-size="19.7" font-weight="bold" fill="#00b050" textLength="180.2" lengthAdjust="spacingAndGlyphs">EDCRP sub-cluster</text>
<rect x="880.9" y="1064.0" width="160.6" height="17.4" fill="#fff"/>
<rect x="879.4" y="1081.4" width="162.6" height="9.6" fill="#f0f0f3"/>
<rect x="880.9" y="1091.0" width="160.6" height="154.4" fill="#f7f7f7"/>
<text x="913.5" y="1078.2" font-size="10.6" font-weight="bold" fill="#111" text-anchor="middle">EDCRP</text>
<text x="969.1" y="1078.2" font-size="10.6" font-weight="bold" fill="#111" text-anchor="middle">EDMPN2</text>
<text x="1017.8" y="1078.2" font-size="10.6" font-weight="bold" fill="#111" text-anchor="middle">EDMPN1</text>
<line x1="889.2" y1="1086.2" x2="920.2" y2="1086.2" stroke="#0b0bb0" stroke-width="1"/>
<rect x="897.6" y="1083.6" width="19.1" height="5.2" rx="1.2" fill="#0b0bb0"/>
<line x1="962" y1="1086.2" x2="971.6" y2="1086.2" stroke="#0b0bb0" stroke-width="1"/>
<rect x="966.5" y="1083.6" width="5.5" height="5.2" rx="1.2" fill="#0b0bb0"/>
<line x1="1017.6" y1="1086.2" x2="1033.6" y2="1086.2" stroke="#0b0bb0" stroke-width="1"/>
<rect x="1024" y="1083.6" width="9.0" height="5.2" rx="1.2" fill="#0b0bb0"/>
<text x="882.4" y="1101.2" font-size="10" font-style="italic" fill="#444">0-87K</text>
<line x1="880.9" y1="1130.8" x2="1041.5" y2="1130.8" stroke="#9a9ac8" stroke-width="1"/>
<path d="M962.70 1130.80L962.70 1130.80L963.50 1129.24L964.30 1128.81L965.10 1128.51L965.90 1128.20L966.70 1126.95L967.50 1125.55L968.30 1124.08L969.10 1122.56L969.90 1121.00L970.70 1119.40L971.50 1117.78L972.30 1116.14L973.10 1114.48L973.90 1112.80L974.29 1113.14L974.69 1113.83L975.08 1114.76L975.47 1115.89L975.86 1117.17L976.26 1118.58L976.65 1120.10L977.04 1121.70L977.44 1123.36L977.83 1125.04L978.22 1126.71L978.61 1128.31L979.01 1129.76L979.40 1130.80L979.40 1130.80ZM1018.60 1130.80L1018.60 1130.80L1019.41 1130.34L1020.23 1129.57L1021.04 1128.67L1021.86 1127.71L1022.67 1126.76L1023.49 1125.83L1024.30 1124.95L1025.11 1124.16L1025.93 1123.47L1026.74 1122.88L1027.56 1122.41L1028.37 1122.07L1029.19 1121.87L1030.00 1121.80L1030.43 1121.87L1030.86 1122.07L1031.29 1122.41L1031.71 1122.88L1032.14 1123.47L1032.57 1124.16L1033.00 1124.95L1033.43 1125.83L1033.86 1126.76L1034.29 1127.71L1034.71 1128.67L1035.14 1129.57L1035.57 1130.34L1036.00 1130.80L1036.00 1130.80Z" fill="#0b0bb0"/>
<text x="849.2" y="1112.5" font-size="12.2" fill="#222" textLength="23.6" lengthAdjust="spacingAndGlyphs">E14B</text>
<text x="849.2" y="1126.8" font-size="12.2" fill="#222" textLength="27.2" lengthAdjust="spacingAndGlyphs">Ctrl_1</text>
<line x1="880.9" y1="1169.7" x2="1041.5" y2="1169.7" stroke="#9a9ac8" stroke-width="1"/>
<line x1="882.9" y1="1133.8" x2="891.9" y2="1133.8" stroke="#c8c8c8" stroke-width="1"/>
<path d="M962.70 1169.70L962.70 1169.70L963.50 1168.60L964.30 1168.30L965.10 1168.08L965.90 1167.87L966.70 1166.99L967.50 1166.00L968.30 1164.96L969.10 1163.88L969.90 1162.78L970.70 1161.66L971.50 1160.52L972.30 1159.36L973.10 1158.19L973.90 1157.00L974.29 1157.24L974.69 1157.73L975.08 1158.39L975.47 1159.18L975.86 1160.08L976.26 1161.08L976.65 1162.15L977.04 1163.28L977.44 1164.45L977.83 1165.64L978.22 1166.81L978.61 1167.94L979.01 1168.96L979.40 1169.70L979.40 1169.70ZM1020.00 1169.70L1020.00 1169.70L1020.71 1169.44L1021.43 1169.02L1022.14 1168.52L1022.86 1167.99L1023.57 1167.45L1024.29 1166.94L1025.00 1166.45L1025.71 1166.01L1026.43 1165.63L1027.14 1165.30L1027.86 1165.04L1028.57 1164.85L1029.29 1164.74L1030.00 1164.70L1030.43 1164.74L1030.86 1164.85L1031.29 1165.04L1031.71 1165.30L1032.14 1165.63L1032.57 1166.01L1033.00 1166.45L1033.43 1166.94L1033.86 1167.45L1034.29 1167.99L1034.71 1168.52L1035.14 1169.02L1035.57 1169.44L1036.00 1169.70L1036.00 1169.70Z" fill="#0b0bb0"/>
<text x="849.2" y="1152.3" font-size="12.2" fill="#222" textLength="23.6" lengthAdjust="spacingAndGlyphs">E14B</text>
<text x="849.2" y="1166.6" font-size="12.2" fill="#222" textLength="27.2" lengthAdjust="spacingAndGlyphs">Ctrl_2</text>
<line x1="880.9" y1="1207.9" x2="1041.5" y2="1207.9" stroke="#e89a9a" stroke-width="1"/>
<line x1="882.9" y1="1172.7" x2="891.9" y2="1172.7" stroke="#c8c8c8" stroke-width="1"/>
<path d="M897.00 1207.90L897.00 1207.90L897.43 1207.79L897.86 1207.60L898.29 1207.38L898.71 1207.15L899.14 1206.91L899.57 1206.68L900.00 1206.47L900.43 1206.28L900.86 1206.11L901.29 1205.96L901.71 1205.85L902.14 1205.77L902.57 1205.72L903.00 1205.70L903.57 1205.72L904.14 1205.77L904.71 1205.85L905.29 1205.96L905.86 1206.11L906.43 1206.28L907.00 1206.47L907.57 1206.68L908.14 1206.91L908.71 1207.15L909.29 1207.38L909.86 1207.60L910.43 1207.79L911.00 1207.90L911.00 1207.90ZM906.00 1207.90L906.00 1207.90L906.71 1207.75L907.43 1207.49L908.14 1207.19L908.86 1206.87L909.57 1206.55L910.29 1206.24L911.00 1205.95L911.71 1205.69L912.43 1205.46L913.14 1205.26L913.86 1205.10L914.57 1204.99L915.29 1204.92L916.00 1204.90L916.43 1204.92L916.86 1204.99L917.29 1205.10L917.71 1205.26L918.14 1205.46L918.57 1205.69L919.00 1205.95L919.43 1206.24L919.86 1206.55L920.29 1206.87L920.71 1207.19L921.14 1207.49L921.57 1207.75L922.00 1207.90L922.00 1207.90ZM962.70 1207.90L962.70 1207.90L963.41 1206.30L964.13 1205.86L964.84 1205.55L965.56 1205.25L966.27 1203.97L966.99 1202.54L967.70 1201.03L968.41 1199.47L969.13 1197.88L969.84 1196.25L970.56 1194.60L971.27 1192.92L971.99 1191.22L972.70 1189.50L973.18 1189.85L973.66 1190.56L974.14 1191.51L974.61 1192.66L975.09 1193.97L975.57 1195.41L976.05 1196.97L976.53 1198.60L977.01 1200.29L977.49 1202.01L977.96 1203.71L978.44 1205.35L978.92 1206.83L979.40 1207.90L979.40 1207.90ZM1018.60 1207.90L1018.60 1207.90L1019.41 1204.86L1020.23 1204.03L1021.04 1203.44L1021.86 1202.85L1022.67 1200.42L1023.49 1197.70L1024.30 1194.83L1025.11 1191.87L1025.93 1188.84L1026.74 1185.74L1027.56 1182.59L1028.37 1179.40L1029.19 1176.17L1030.00 1172.90L1030.43 1173.57L1030.86 1174.91L1031.29 1176.72L1031.71 1178.90L1032.14 1181.40L1032.57 1184.14L1033.00 1187.10L1033.43 1190.21L1033.86 1193.43L1034.29 1196.70L1034.71 1199.94L1035.14 1203.05L1035.57 1205.87L1036.00 1207.90L1036.00 1207.90Z" fill="#ff2000"/>
<text x="833.2" y="1191.2" font-size="12.2" fill="#222" textLength="23.6" lengthAdjust="spacingAndGlyphs">E14B</text>
<text x="833.2" y="1205.5" font-size="12.2" fill="#222" textLength="43.2" lengthAdjust="spacingAndGlyphs">SATB2_1</text>
<line x1="880.9" y1="1245.4" x2="1041.5" y2="1245.4" stroke="#e89a9a" stroke-width="1"/>
<line x1="882.9" y1="1210.9" x2="891.9" y2="1210.9" stroke="#c8c8c8" stroke-width="1"/>
<path d="M962.70 1245.40L962.70 1245.40L963.41 1244.01L964.13 1243.63L964.84 1243.36L965.56 1243.09L966.27 1241.98L966.99 1240.74L967.70 1239.43L968.41 1238.07L969.13 1236.68L969.84 1235.27L970.56 1233.83L971.27 1232.37L971.99 1230.89L972.70 1229.40L973.18 1229.70L973.66 1230.32L974.14 1231.15L974.61 1232.14L975.09 1233.28L975.57 1234.54L976.05 1235.89L976.53 1237.31L977.01 1238.79L977.49 1240.28L977.96 1241.76L978.44 1243.18L978.92 1244.47L979.40 1245.40L979.40 1245.40ZM1018.60 1245.40L1018.60 1245.40L1019.41 1244.49L1020.23 1244.24L1021.04 1244.06L1021.86 1243.89L1022.67 1243.16L1023.49 1242.34L1024.30 1241.48L1025.11 1240.59L1025.93 1239.68L1026.74 1238.75L1027.56 1237.81L1028.37 1236.85L1029.19 1235.88L1030.00 1234.90L1030.43 1235.10L1030.86 1235.50L1031.29 1236.05L1031.71 1236.70L1032.14 1237.45L1032.57 1238.27L1033.00 1239.16L1033.43 1240.09L1033.86 1241.06L1034.29 1242.04L1034.71 1243.01L1035.14 1243.95L1035.57 1244.79L1036.00 1245.40L1036.00 1245.40Z" fill="#ff2000"/>
<text x="833.2" y="1229.4" font-size="12.2" fill="#222" textLength="23.6" lengthAdjust="spacingAndGlyphs">E14B</text>
<text x="833.2" y="1243.7" font-size="12.2" fill="#222" textLength="43.2" lengthAdjust="spacingAndGlyphs">SATB2_2</text>
<rect x="880.9" y="1064.0" width="160.6" height="181.4" fill="none" stroke="#b4b4b4" stroke-width="1.2"/>
<line x1="880.9" y1="1091.0" x2="1041.5" y2="1091.0" stroke="#b8b8b8" stroke-width="1.4"/>
<text x="882.5" y="1259.6" font-size="11" fill="#222" textLength="159.0" lengthAdjust="spacingAndGlyphs">Chr25: 3,261,500–3,271,500 (10kb)</text>
<rect x="1058.6" y="983.8" width="224.1" height="298.6" fill="none" stroke="#c4c4c4" stroke-width="1.4"/>
<text x="1064.8" y="1012.0" font-size="32" font-weight="bold" fill="#000">d’’</text>
<text x="1104.4" y="1059.0" font-size="19.7" font-weight="bold" fill="#fb7a1e" textLength="166.4" lengthAdjust="spacingAndGlyphs">EDCH sub-cluster</text>
<rect x="1112.5" y="1064.0" width="160.7" height="17.4" fill="#fff"/>
<rect x="1111.0" y="1081.4" width="162.7" height="9.6" fill="#f0f0f3"/>
<rect x="1112.5" y="1091.0" width="160.7" height="154.4" fill="#f7f7f7"/>
<text x="1135.0" y="1078.2" font-size="10.6" font-weight="bold" fill="#111" text-anchor="middle">EDCH4</text>
<text x="1194.7" y="1078.2" font-size="10.6" font-weight="bold" fill="#111" text-anchor="middle">EDCH3</text>
<text x="1249.7" y="1078.2" font-size="10.6" font-weight="bold" fill="#111" text-anchor="middle">EDCH2</text>
<line x1="1124.5" y1="1086.2" x2="1142.6" y2="1086.2" stroke="#0b0bb0" stroke-width="1"/>
<rect x="1137.1" y="1083.6" width="5.5" height="5.2" rx="1.2" fill="#0b0bb0"/>
<line x1="1184.8" y1="1086.2" x2="1202.7" y2="1086.2" stroke="#0b0bb0" stroke-width="1"/>
<rect x="1194.4" y="1083.6" width="8.3" height="5.2" rx="1.2" fill="#0b0bb0"/>
<line x1="1235" y1="1086.2" x2="1255.7" y2="1086.2" stroke="#0b0bb0" stroke-width="1"/>
<rect x="1243.8" y="1083.6" width="7.9" height="5.2" rx="1.2" fill="#0b0bb0"/>
<text x="1114.0" y="1101.2" font-size="10" font-style="italic" fill="#444">0-1283K</text>
<line x1="1112.5" y1="1130.8" x2="1273.2" y2="1130.8" stroke="#9a9ac8" stroke-width="1"/>
<path d="M1125.2 1130.8V1123.20H1131.1V1130.8ZM1131.10 1130.80L1131.10 1130.80L1131.87 1128.54L1132.64 1127.92L1133.41 1127.49L1134.19 1127.05L1134.96 1125.24L1135.73 1123.22L1136.50 1121.09L1137.27 1118.89L1138.04 1116.64L1138.81 1114.34L1139.59 1112.00L1140.36 1109.63L1141.13 1107.23L1141.90 1104.80L1142.49 1105.29L1143.09 1106.29L1143.68 1107.64L1144.27 1109.26L1144.86 1111.11L1145.46 1113.15L1146.05 1115.35L1146.64 1117.66L1147.24 1120.05L1147.83 1122.48L1148.42 1124.89L1149.01 1127.20L1149.61 1129.29L1150.20 1130.80L1150.20 1130.80ZM1184.8 1130.8V1126.80H1192V1130.8ZM1192.00 1130.80L1192.00 1130.80L1192.56 1129.50L1193.13 1129.14L1193.69 1128.89L1194.26 1128.64L1194.82 1127.59L1195.39 1126.43L1195.95 1125.20L1196.51 1123.93L1197.08 1122.63L1197.64 1121.30L1198.21 1119.95L1198.77 1118.59L1199.34 1117.20L1199.90 1115.80L1200.53 1116.09L1201.16 1116.66L1201.79 1117.44L1202.41 1118.37L1203.04 1119.44L1203.67 1120.62L1204.30 1121.89L1204.93 1123.22L1205.56 1124.60L1206.19 1126.00L1206.81 1127.39L1207.44 1128.72L1208.07 1129.93L1208.70 1130.80L1208.70 1130.80ZM1237.40 1130.80L1237.40 1130.80L1238.08 1130.49L1238.76 1129.98L1239.44 1129.38L1240.11 1128.74L1240.79 1128.10L1241.47 1127.48L1242.15 1126.90L1242.83 1126.37L1243.51 1125.91L1244.19 1125.52L1244.86 1125.21L1245.54 1124.98L1246.22 1124.85L1246.90 1124.80L1247.53 1124.85L1248.16 1124.98L1248.79 1125.21L1249.41 1125.52L1250.04 1125.91L1250.67 1126.37L1251.30 1126.90L1251.93 1127.48L1252.56 1128.10L1253.19 1128.74L1253.81 1129.38L1254.44 1129.98L1255.07 1130.49L1255.70 1130.80L1255.70 1130.80Z" fill="#0b0bb0"/>
<text x="1080.8" y="1112.5" font-size="12.2" fill="#222" textLength="23.6" lengthAdjust="spacingAndGlyphs">E14B</text>
<text x="1080.8" y="1126.8" font-size="12.2" fill="#222" textLength="27.2" lengthAdjust="spacingAndGlyphs">Ctrl_1</text>
<line x1="1112.5" y1="1169.7" x2="1273.2" y2="1169.7" stroke="#9a9ac8" stroke-width="1"/>
<line x1="1114.5" y1="1133.8" x2="1123.5" y2="1133.8" stroke="#c8c8c8" stroke-width="1"/>
<path d="M1125.2 1169.7V1157.70H1131.1V1169.7ZM1131.10 1169.70L1131.10 1169.70L1131.87 1166.58L1132.64 1165.72L1133.41 1165.11L1134.19 1164.51L1134.96 1162.01L1135.73 1159.20L1136.50 1156.26L1137.27 1153.21L1138.04 1150.09L1138.81 1146.91L1139.59 1143.67L1140.36 1140.39L1141.13 1137.06L1141.90 1133.70L1142.49 1134.38L1143.09 1135.77L1143.68 1137.63L1144.27 1139.87L1144.86 1142.44L1145.46 1145.27L1146.05 1148.31L1146.64 1151.51L1147.24 1154.82L1147.83 1158.18L1148.42 1161.51L1149.01 1164.71L1149.61 1167.61L1150.20 1169.70L1150.20 1169.70ZM1184.8 1169.7V1164.70H1192V1169.7ZM1192.00 1169.70L1192.00 1169.70L1192.60 1167.32L1193.20 1166.67L1193.80 1166.21L1194.40 1165.75L1195.00 1163.84L1195.60 1161.71L1196.20 1159.47L1196.80 1157.15L1197.40 1154.77L1198.00 1152.35L1198.60 1149.89L1199.20 1147.39L1199.80 1144.86L1200.40 1142.30L1200.99 1142.82L1201.59 1143.87L1202.18 1145.29L1202.77 1147.00L1203.36 1148.95L1203.96 1151.10L1204.55 1153.42L1205.14 1155.85L1205.74 1158.37L1206.33 1160.93L1206.92 1163.47L1207.51 1165.90L1208.11 1168.11L1208.70 1169.70L1208.70 1169.70ZM1237.40 1169.70L1237.40 1169.70L1238.08 1169.14L1238.76 1168.20L1239.44 1167.10L1240.11 1165.93L1240.79 1164.76L1241.47 1163.62L1242.15 1162.56L1242.83 1161.59L1243.51 1160.74L1244.19 1160.02L1244.86 1159.45L1245.54 1159.04L1246.22 1158.78L1246.90 1158.70L1247.53 1158.78L1248.16 1159.04L1248.79 1159.45L1249.41 1160.02L1250.04 1160.74L1250.67 1161.59L1251.30 1162.56L1251.93 1163.62L1252.56 1164.76L1253.19 1165.93L1253.81 1167.10L1254.44 1168.20L1255.07 1169.14L1255.70 1169.70L1255.70 1169.70Z" fill="#0b0bb0"/>
<text x="1080.8" y="1152.3" font-size="12.2" fill="#222" textLength="23.6" lengthAdjust="spacingAndGlyphs">E14B</text>
<text x="1080.8" y="1166.6" font-size="12.2" fill="#222" textLength="27.2" lengthAdjust="spacingAndGlyphs">Ctrl_2</text>
<line x1="1112.5" y1="1207.9" x2="1273.2" y2="1207.9" stroke="#e89a9a" stroke-width="1"/>
<line x1="1114.5" y1="1172.7" x2="1123.5" y2="1172.7" stroke="#c8c8c8" stroke-width="1"/>
<path d="M1125.2 1207.9V1205.90H1131.1V1207.9ZM1131.10 1207.90L1131.10 1207.90L1131.87 1207.54L1132.64 1206.94L1133.41 1206.24L1134.19 1205.50L1134.96 1204.75L1135.73 1204.03L1136.50 1203.35L1137.27 1202.74L1138.04 1202.20L1138.81 1201.74L1139.59 1201.38L1140.36 1201.11L1141.13 1200.95L1141.90 1200.90L1142.49 1200.95L1143.09 1201.11L1143.68 1201.38L1144.27 1201.74L1144.86 1202.20L1145.46 1202.74L1146.05 1203.35L1146.64 1204.03L1147.24 1204.75L1147.83 1205.50L1148.42 1206.24L1149.01 1206.94L1149.61 1207.54L1150.20 1207.90L1150.20 1207.90ZM1184.8 1207.9V1206.40H1192V1207.9ZM1192.00 1207.90L1192.00 1207.90L1192.57 1207.64L1193.14 1207.22L1193.71 1206.72L1194.29 1206.19L1194.86 1205.65L1195.43 1205.14L1196.00 1204.65L1196.57 1204.21L1197.14 1203.83L1197.71 1203.50L1198.29 1203.24L1198.86 1203.05L1199.43 1202.94L1200.00 1202.90L1200.62 1202.94L1201.24 1203.05L1201.86 1203.24L1202.49 1203.50L1203.11 1203.83L1203.73 1204.21L1204.35 1204.65L1204.97 1205.14L1205.59 1205.65L1206.21 1206.19L1206.84 1206.72L1207.46 1207.22L1208.08 1207.64L1208.70 1207.90L1208.70 1207.90ZM1240.00 1207.90L1240.00 1207.90L1240.50 1207.85L1241.00 1207.76L1241.50 1207.66L1242.00 1207.56L1242.50 1207.45L1243.00 1207.35L1243.50 1207.25L1244.00 1207.16L1244.50 1207.09L1245.00 1207.02L1245.50 1206.97L1246.00 1206.93L1246.50 1206.91L1247.00 1206.90L1247.50 1206.91L1248.00 1206.93L1248.50 1206.97L1249.00 1207.02L1249.50 1207.09L1250.00 1207.16L1250.50 1207.25L1251.00 1207.35L1251.50 1207.45L1252.00 1207.56L1252.50 1207.66L1253.00 1207.76L1253.50 1207.85L1254.00 1207.90L1254.00 1207.90Z" fill="#ff2000"/>
<text x="1064.8" y="1191.2" font-size="12.2" fill="#222" textLength="23.6" lengthAdjust="spacingAndGlyphs">E14B</text>
<text x="1064.8" y="1205.5" font-size="12.2" fill="#222" textLength="43.2" lengthAdjust="spacingAndGlyphs">SATB2_1</text>
<line x1="1112.5" y1="1245.4" x2="1273.2" y2="1245.4" stroke="#e89a9a" stroke-width="1"/>
<line x1="1114.5" y1="1210.9" x2="1123.5" y2="1210.9" stroke="#c8c8c8" stroke-width="1"/>
<path d="M1125.2 1245.4V1242.90H1131.1V1245.4ZM1131.10 1245.40L1131.10 1245.40L1131.87 1244.53L1132.64 1244.29L1133.41 1244.13L1134.19 1243.96L1134.96 1243.26L1135.73 1242.48L1136.50 1241.67L1137.27 1240.82L1138.04 1239.95L1138.81 1239.07L1139.59 1238.17L1140.36 1237.26L1141.13 1236.33L1141.90 1235.40L1142.49 1235.59L1143.09 1235.97L1143.68 1236.49L1144.27 1237.12L1144.86 1237.83L1145.46 1238.61L1146.05 1239.46L1146.64 1240.35L1147.24 1241.27L1147.83 1242.20L1148.42 1243.13L1149.01 1244.01L1149.61 1244.82L1150.20 1245.40L1150.20 1245.40ZM1184.8 1245.4V1243.40H1192V1245.4ZM1192.00 1245.40L1192.00 1245.40L1192.57 1244.94L1193.14 1244.17L1193.71 1243.27L1194.29 1242.31L1194.86 1241.36L1195.43 1240.43L1196.00 1239.55L1196.57 1238.76L1197.14 1238.07L1197.71 1237.48L1198.29 1237.01L1198.86 1236.67L1199.43 1236.47L1200.00 1236.40L1200.62 1236.47L1201.24 1236.67L1201.86 1237.01L1202.49 1237.48L1203.11 1238.07L1203.73 1238.76L1204.35 1239.55L1204.97 1240.43L1205.59 1241.36L1206.21 1242.31L1206.84 1243.27L1207.46 1244.17L1208.08 1244.94L1208.70 1245.40L1208.70 1245.40ZM1240.00 1245.40L1240.00 1245.40L1240.50 1245.25L1241.00 1244.99L1241.50 1244.69L1242.00 1244.37L1242.50 1244.05L1243.00 1243.74L1243.50 1243.45L1244.00 1243.19L1244.50 1242.96L1245.00 1242.76L1245.50 1242.60L1246.00 1242.49L1246.50 1242.42L1247.00 1242.40L1247.57 1242.42L1248.14 1242.49L1248.71 1242.60L1249.29 1242.76L1249.86 1242.96L1250.43 1243.19L1251.00 1243.45L1251.57 1243.74L1252.14 1244.05L1252.71 1244.37L1253.29 1244.69L1253.86 1244.99L1254.43 1245.25L1255.00 1245.40L1255.00 1245.40Z" fill="#ff2000"/>
<text x="1064.8" y="1229.4" font-size="12.2" fill="#222" textLength="23.6" lengthAdjust="spacingAndGlyphs">E14B</text>
<text x="1064.8" y="1243.7" font-size="12.2" fill="#222" textLength="43.2" lengthAdjust="spacingAndGlyphs">SATB2_2</text>
<rect x="1112.5" y="1064.0" width="160.7" height="181.4" fill="none" stroke="#b4b4b4" stroke-width="1.2"/>
<line x1="1112.5" y1="1091.0" x2="1273.2" y2="1091.0" stroke="#b8b8b8" stroke-width="1.4"/>
<text x="1116.3" y="1259.6" font-size="11" fill="#222" textLength="152.1" lengthAdjust="spacingAndGlyphs">Chr25: 3,251,500–3,258,500 (7kb)</text>
</svg>
</body></html>
